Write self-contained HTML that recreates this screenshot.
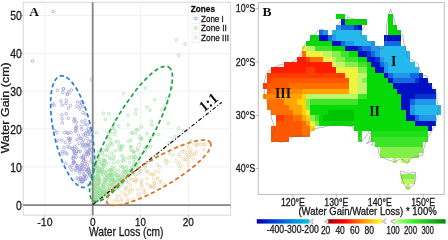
<!DOCTYPE html><html><head><meta charset="utf-8"><style>html,body{margin:0;padding:0;background:#fff;}svg{display:block;filter:blur(0.3px)}</style></head><body>
<svg width="448" height="239" viewBox="0 0 448 239" font-family="Liberation Sans, sans-serif">
<rect width="448" height="239" fill="#fff"/>
<rect x="23.2" y="2.2" width="207.4" height="212.9" fill="#fff" stroke="#d6d6d6" stroke-width="1"/>
<line x1="68.8" y1="2.2" x2="68.8" y2="215.1" stroke="#fbfbfb" stroke-width="0.0"/>
<line x1="116.6" y1="2.2" x2="116.6" y2="215.1" stroke="#fbfbfb" stroke-width="0.0"/>
<line x1="164.4" y1="2.2" x2="164.4" y2="215.1" stroke="#fbfbfb" stroke-width="0.0"/>
<line x1="212.2" y1="2.2" x2="212.2" y2="215.1" stroke="#fbfbfb" stroke-width="0.0"/>
<line x1="23.2" y1="185.8" x2="230.6" y2="185.8" stroke="#fbfbfb" stroke-width="0.0"/>
<line x1="23.2" y1="147.9" x2="230.6" y2="147.9" stroke="#fbfbfb" stroke-width="0.0"/>
<line x1="23.2" y1="110.1" x2="230.6" y2="110.1" stroke="#fbfbfb" stroke-width="0.0"/>
<line x1="23.2" y1="72.3" x2="230.6" y2="72.3" stroke="#fbfbfb" stroke-width="0.0"/>
<line x1="23.2" y1="34.4" x2="230.6" y2="34.4" stroke="#fbfbfb" stroke-width="0.0"/>
<line x1="44.9" y1="2.2" x2="44.9" y2="215.1" stroke="#f1f1f1" stroke-width="1"/>
<line x1="92.7" y1="2.2" x2="92.7" y2="215.1" stroke="#f1f1f1" stroke-width="1"/>
<line x1="140.5" y1="2.2" x2="140.5" y2="215.1" stroke="#f1f1f1" stroke-width="1"/>
<line x1="188.3" y1="2.2" x2="188.3" y2="215.1" stroke="#f1f1f1" stroke-width="1"/>
<line x1="23.2" y1="204.7" x2="230.6" y2="204.7" stroke="#f1f1f1" stroke-width="1"/>
<line x1="23.2" y1="166.9" x2="230.6" y2="166.9" stroke="#f1f1f1" stroke-width="1"/>
<line x1="23.2" y1="129.0" x2="230.6" y2="129.0" stroke="#f1f1f1" stroke-width="1"/>
<line x1="23.2" y1="91.2" x2="230.6" y2="91.2" stroke="#f1f1f1" stroke-width="1"/>
<line x1="23.2" y1="53.3" x2="230.6" y2="53.3" stroke="#f1f1f1" stroke-width="1"/>
<line x1="23.2" y1="15.5" x2="230.6" y2="15.5" stroke="#f1f1f1" stroke-width="1"/>
<circle cx="108.3" cy="163.2" r="1.35" fill="none" stroke="#9ede9e" stroke-width="0.7"/>
<circle cx="203.7" cy="149.5" r="1.35" fill="none" stroke="#e8d4a4" stroke-width="0.7"/>
<circle cx="80.2" cy="151.2" r="1.35" fill="none" stroke="#9898d4" stroke-width="0.7"/>
<circle cx="87.8" cy="169.4" r="1.35" fill="none" stroke="#9898d4" stroke-width="0.7"/>
<circle cx="111.7" cy="179.3" r="1.35" fill="none" stroke="#9ede9e" stroke-width="0.7"/>
<circle cx="135.3" cy="157.3" r="1.35" fill="none" stroke="#9ede9e" stroke-width="0.7"/>
<circle cx="69.9" cy="140.1" r="1.35" fill="none" stroke="#9898d4" stroke-width="0.7"/>
<circle cx="113.1" cy="201.4" r="1.35" fill="none" stroke="#e8d4a4" stroke-width="0.7"/>
<circle cx="185.4" cy="159.3" r="1.35" fill="none" stroke="#e8d4a4" stroke-width="0.7"/>
<circle cx="95.9" cy="186.4" r="1.35" fill="none" stroke="#9ede9e" stroke-width="0.7"/>
<circle cx="113.8" cy="156.1" r="1.35" fill="none" stroke="#9ede9e" stroke-width="0.7"/>
<circle cx="96.4" cy="182.8" r="1.35" fill="none" stroke="#9ede9e" stroke-width="0.7"/>
<circle cx="94.4" cy="197.2" r="1.35" fill="none" stroke="#9ede9e" stroke-width="0.7"/>
<circle cx="82.8" cy="144.9" r="1.35" fill="none" stroke="#9898d4" stroke-width="0.7"/>
<circle cx="103.6" cy="186.9" r="1.35" fill="none" stroke="#9ede9e" stroke-width="0.7"/>
<circle cx="119.8" cy="179.5" r="1.35" fill="none" stroke="#9ede9e" stroke-width="0.7"/>
<circle cx="140.6" cy="170.8" r="1.35" fill="none" stroke="#9ede9e" stroke-width="0.7"/>
<circle cx="116.3" cy="199.5" r="1.35" fill="none" stroke="#e8d4a4" stroke-width="0.7"/>
<circle cx="171.6" cy="87.4" r="1.35" fill="none" stroke="#9ede9e" stroke-width="0.7"/>
<circle cx="130.2" cy="191.2" r="1.35" fill="none" stroke="#e8d4a4" stroke-width="0.7"/>
<circle cx="137.0" cy="167.1" r="1.35" fill="none" stroke="#9ede9e" stroke-width="0.7"/>
<circle cx="76.5" cy="127.6" r="1.35" fill="none" stroke="#9898d4" stroke-width="0.7"/>
<circle cx="103.2" cy="192.5" r="1.35" fill="none" stroke="#9ede9e" stroke-width="0.7"/>
<circle cx="93.6" cy="199.5" r="1.35" fill="none" stroke="#9ede9e" stroke-width="0.7"/>
<circle cx="116.4" cy="184.2" r="1.35" fill="none" stroke="#9ede9e" stroke-width="0.7"/>
<circle cx="122.7" cy="146.0" r="1.35" fill="none" stroke="#9ede9e" stroke-width="0.7"/>
<circle cx="101.5" cy="174.6" r="1.35" fill="none" stroke="#9ede9e" stroke-width="0.7"/>
<circle cx="136.1" cy="109.7" r="1.35" fill="none" stroke="#9ede9e" stroke-width="0.7"/>
<circle cx="79.7" cy="108.9" r="1.35" fill="none" stroke="#9898d4" stroke-width="0.7"/>
<circle cx="105.9" cy="180.6" r="1.35" fill="none" stroke="#9ede9e" stroke-width="0.7"/>
<circle cx="97.0" cy="197.6" r="1.35" fill="none" stroke="#9ede9e" stroke-width="0.7"/>
<circle cx="84.9" cy="175.7" r="1.35" fill="none" stroke="#9898d4" stroke-width="0.7"/>
<circle cx="135.7" cy="113.9" r="1.35" fill="none" stroke="#9ede9e" stroke-width="0.7"/>
<circle cx="129.8" cy="170.4" r="1.35" fill="none" stroke="#9ede9e" stroke-width="0.7"/>
<circle cx="133.9" cy="159.4" r="1.35" fill="none" stroke="#9ede9e" stroke-width="0.7"/>
<circle cx="97.4" cy="184.7" r="1.35" fill="none" stroke="#9ede9e" stroke-width="0.7"/>
<circle cx="66.3" cy="100.5" r="1.35" fill="none" stroke="#9898d4" stroke-width="0.7"/>
<circle cx="120.2" cy="150.2" r="1.35" fill="none" stroke="#9ede9e" stroke-width="0.7"/>
<circle cx="102.1" cy="170.9" r="1.35" fill="none" stroke="#9ede9e" stroke-width="0.7"/>
<circle cx="99.2" cy="189.0" r="1.35" fill="none" stroke="#9ede9e" stroke-width="0.7"/>
<circle cx="103.0" cy="183.8" r="1.35" fill="none" stroke="#9ede9e" stroke-width="0.7"/>
<circle cx="129.1" cy="157.9" r="1.35" fill="none" stroke="#9ede9e" stroke-width="0.7"/>
<circle cx="98.5" cy="171.0" r="1.35" fill="none" stroke="#9ede9e" stroke-width="0.7"/>
<circle cx="96.0" cy="196.9" r="1.35" fill="none" stroke="#9ede9e" stroke-width="0.7"/>
<circle cx="80.6" cy="179.7" r="1.35" fill="none" stroke="#9898d4" stroke-width="0.7"/>
<circle cx="122.9" cy="167.0" r="1.35" fill="none" stroke="#9ede9e" stroke-width="0.7"/>
<circle cx="65.2" cy="142.3" r="1.35" fill="none" stroke="#9898d4" stroke-width="0.7"/>
<circle cx="103.9" cy="166.1" r="1.35" fill="none" stroke="#9ede9e" stroke-width="0.7"/>
<circle cx="77.5" cy="165.4" r="1.35" fill="none" stroke="#9898d4" stroke-width="0.7"/>
<circle cx="83.5" cy="134.8" r="1.35" fill="none" stroke="#9898d4" stroke-width="0.7"/>
<circle cx="135.3" cy="133.6" r="1.35" fill="none" stroke="#9ede9e" stroke-width="0.7"/>
<circle cx="97.0" cy="186.2" r="1.35" fill="none" stroke="#9ede9e" stroke-width="0.7"/>
<circle cx="84.7" cy="175.9" r="1.35" fill="none" stroke="#9898d4" stroke-width="0.7"/>
<circle cx="84.2" cy="171.2" r="1.35" fill="none" stroke="#9898d4" stroke-width="0.7"/>
<circle cx="76.6" cy="166.1" r="1.35" fill="none" stroke="#9898d4" stroke-width="0.7"/>
<circle cx="98.2" cy="160.9" r="1.35" fill="none" stroke="#9ede9e" stroke-width="0.7"/>
<circle cx="63.3" cy="88.8" r="1.35" fill="none" stroke="#9898d4" stroke-width="0.7"/>
<circle cx="104.2" cy="155.2" r="1.35" fill="none" stroke="#9ede9e" stroke-width="0.7"/>
<circle cx="93.2" cy="199.3" r="1.35" fill="none" stroke="#9ede9e" stroke-width="0.7"/>
<circle cx="105.1" cy="190.6" r="1.35" fill="none" stroke="#9ede9e" stroke-width="0.7"/>
<circle cx="113.4" cy="179.2" r="1.35" fill="none" stroke="#9ede9e" stroke-width="0.7"/>
<circle cx="61.9" cy="114.8" r="1.35" fill="none" stroke="#9898d4" stroke-width="0.7"/>
<circle cx="189.5" cy="157.3" r="1.35" fill="none" stroke="#e8d4a4" stroke-width="0.7"/>
<circle cx="106.6" cy="190.8" r="1.35" fill="none" stroke="#9ede9e" stroke-width="0.7"/>
<circle cx="121.8" cy="199.2" r="1.35" fill="none" stroke="#e8d4a4" stroke-width="0.7"/>
<circle cx="90.6" cy="141.3" r="1.35" fill="none" stroke="#9898d4" stroke-width="0.7"/>
<circle cx="125.3" cy="169.1" r="1.35" fill="none" stroke="#9ede9e" stroke-width="0.7"/>
<circle cx="83.3" cy="140.0" r="1.35" fill="none" stroke="#9898d4" stroke-width="0.7"/>
<circle cx="69.1" cy="139.4" r="1.35" fill="none" stroke="#9898d4" stroke-width="0.7"/>
<circle cx="97.1" cy="200.6" r="1.35" fill="none" stroke="#9ede9e" stroke-width="0.7"/>
<circle cx="183.3" cy="150.7" r="1.35" fill="none" stroke="#e8d4a4" stroke-width="0.7"/>
<circle cx="67.2" cy="94.3" r="1.35" fill="none" stroke="#9898d4" stroke-width="0.7"/>
<circle cx="111.8" cy="145.0" r="1.35" fill="none" stroke="#9ede9e" stroke-width="0.7"/>
<circle cx="190.4" cy="151.5" r="1.35" fill="none" stroke="#e8d4a4" stroke-width="0.7"/>
<circle cx="94.9" cy="198.8" r="1.35" fill="none" stroke="#9ede9e" stroke-width="0.7"/>
<circle cx="133.2" cy="179.7" r="1.35" fill="none" stroke="#e8d4a4" stroke-width="0.7"/>
<circle cx="114.3" cy="187.2" r="1.35" fill="none" stroke="#9ede9e" stroke-width="0.7"/>
<circle cx="106.5" cy="177.5" r="1.35" fill="none" stroke="#9ede9e" stroke-width="0.7"/>
<circle cx="135.3" cy="157.5" r="1.35" fill="none" stroke="#9ede9e" stroke-width="0.7"/>
<circle cx="122.4" cy="175.0" r="1.35" fill="none" stroke="#9ede9e" stroke-width="0.7"/>
<circle cx="113.7" cy="162.9" r="1.35" fill="none" stroke="#9ede9e" stroke-width="0.7"/>
<circle cx="104.6" cy="193.0" r="1.35" fill="none" stroke="#9ede9e" stroke-width="0.7"/>
<circle cx="169.0" cy="142.6" r="1.35" fill="none" stroke="#9ede9e" stroke-width="0.7"/>
<circle cx="118.7" cy="126.1" r="1.35" fill="none" stroke="#9ede9e" stroke-width="0.7"/>
<circle cx="109.7" cy="188.2" r="1.35" fill="none" stroke="#9ede9e" stroke-width="0.7"/>
<circle cx="88.1" cy="145.0" r="1.35" fill="none" stroke="#9898d4" stroke-width="0.7"/>
<circle cx="105.0" cy="182.7" r="1.35" fill="none" stroke="#9ede9e" stroke-width="0.7"/>
<circle cx="106.9" cy="178.6" r="1.35" fill="none" stroke="#9ede9e" stroke-width="0.7"/>
<circle cx="188.6" cy="161.4" r="1.35" fill="none" stroke="#e8d4a4" stroke-width="0.7"/>
<circle cx="97.9" cy="175.2" r="1.35" fill="none" stroke="#9ede9e" stroke-width="0.7"/>
<circle cx="130.5" cy="173.0" r="1.35" fill="none" stroke="#9ede9e" stroke-width="0.7"/>
<circle cx="63.5" cy="89.0" r="1.35" fill="none" stroke="#9898d4" stroke-width="0.7"/>
<circle cx="100.3" cy="190.0" r="1.35" fill="none" stroke="#9ede9e" stroke-width="0.7"/>
<circle cx="99.5" cy="181.1" r="1.35" fill="none" stroke="#9ede9e" stroke-width="0.7"/>
<circle cx="95.5" cy="184.9" r="1.35" fill="none" stroke="#9ede9e" stroke-width="0.7"/>
<circle cx="106.9" cy="175.8" r="1.35" fill="none" stroke="#9ede9e" stroke-width="0.7"/>
<circle cx="89.7" cy="171.1" r="1.35" fill="none" stroke="#9898d4" stroke-width="0.7"/>
<circle cx="131.4" cy="133.4" r="1.35" fill="none" stroke="#9ede9e" stroke-width="0.7"/>
<circle cx="102.4" cy="164.9" r="1.35" fill="none" stroke="#9ede9e" stroke-width="0.7"/>
<circle cx="83.2" cy="157.6" r="1.35" fill="none" stroke="#9898d4" stroke-width="0.7"/>
<circle cx="119.2" cy="177.7" r="1.35" fill="none" stroke="#9ede9e" stroke-width="0.7"/>
<circle cx="76.3" cy="122.2" r="1.35" fill="none" stroke="#9898d4" stroke-width="0.7"/>
<circle cx="93.8" cy="190.9" r="1.35" fill="none" stroke="#9ede9e" stroke-width="0.7"/>
<circle cx="137.3" cy="129.8" r="1.35" fill="none" stroke="#9ede9e" stroke-width="0.7"/>
<circle cx="83.5" cy="181.2" r="1.35" fill="none" stroke="#9898d4" stroke-width="0.7"/>
<circle cx="96.1" cy="176.5" r="1.35" fill="none" stroke="#9ede9e" stroke-width="0.7"/>
<circle cx="108.2" cy="147.1" r="1.35" fill="none" stroke="#9ede9e" stroke-width="0.7"/>
<circle cx="154.9" cy="171.3" r="1.35" fill="none" stroke="#e8d4a4" stroke-width="0.7"/>
<circle cx="76.7" cy="148.3" r="1.35" fill="none" stroke="#9898d4" stroke-width="0.7"/>
<circle cx="98.8" cy="198.4" r="1.35" fill="none" stroke="#9ede9e" stroke-width="0.7"/>
<circle cx="73.8" cy="161.6" r="1.35" fill="none" stroke="#9898d4" stroke-width="0.7"/>
<circle cx="72.7" cy="158.3" r="1.35" fill="none" stroke="#9898d4" stroke-width="0.7"/>
<circle cx="176.4" cy="40.1" r="1.35" fill="none" stroke="#9ede9e" stroke-width="0.7"/>
<circle cx="159.8" cy="167.3" r="1.35" fill="none" stroke="#e8d4a4" stroke-width="0.7"/>
<circle cx="158.6" cy="134.3" r="1.35" fill="none" stroke="#9ede9e" stroke-width="0.7"/>
<circle cx="183.8" cy="159.3" r="1.35" fill="none" stroke="#e8d4a4" stroke-width="0.7"/>
<circle cx="98.5" cy="173.6" r="1.35" fill="none" stroke="#9ede9e" stroke-width="0.7"/>
<circle cx="82.5" cy="146.0" r="1.35" fill="none" stroke="#9898d4" stroke-width="0.7"/>
<circle cx="105.6" cy="186.6" r="1.35" fill="none" stroke="#9ede9e" stroke-width="0.7"/>
<circle cx="113.6" cy="159.0" r="1.35" fill="none" stroke="#9ede9e" stroke-width="0.7"/>
<circle cx="113.8" cy="128.4" r="1.35" fill="none" stroke="#9ede9e" stroke-width="0.7"/>
<circle cx="89.3" cy="132.2" r="1.35" fill="none" stroke="#9898d4" stroke-width="0.7"/>
<circle cx="100.1" cy="170.0" r="1.35" fill="none" stroke="#9ede9e" stroke-width="0.7"/>
<circle cx="89.4" cy="149.5" r="1.35" fill="none" stroke="#9898d4" stroke-width="0.7"/>
<circle cx="161.1" cy="181.1" r="1.35" fill="none" stroke="#e8d4a4" stroke-width="0.7"/>
<circle cx="168.2" cy="123.3" r="1.35" fill="none" stroke="#9ede9e" stroke-width="0.7"/>
<circle cx="119.0" cy="177.4" r="1.35" fill="none" stroke="#9ede9e" stroke-width="0.7"/>
<circle cx="102.1" cy="189.2" r="1.35" fill="none" stroke="#9ede9e" stroke-width="0.7"/>
<circle cx="85.5" cy="135.2" r="1.35" fill="none" stroke="#9898d4" stroke-width="0.7"/>
<circle cx="112.3" cy="176.7" r="1.35" fill="none" stroke="#9ede9e" stroke-width="0.7"/>
<circle cx="98.7" cy="197.8" r="1.35" fill="none" stroke="#9ede9e" stroke-width="0.7"/>
<circle cx="122.6" cy="182.1" r="1.35" fill="none" stroke="#9ede9e" stroke-width="0.7"/>
<circle cx="95.0" cy="194.3" r="1.35" fill="none" stroke="#9ede9e" stroke-width="0.7"/>
<circle cx="166.8" cy="98.7" r="1.35" fill="none" stroke="#9ede9e" stroke-width="0.7"/>
<circle cx="135.4" cy="174.9" r="1.35" fill="none" stroke="#9ede9e" stroke-width="0.7"/>
<circle cx="111.0" cy="190.4" r="1.35" fill="none" stroke="#9ede9e" stroke-width="0.7"/>
<circle cx="114.2" cy="188.8" r="1.35" fill="none" stroke="#9ede9e" stroke-width="0.7"/>
<circle cx="194.5" cy="144.1" r="1.35" fill="none" stroke="#e8d4a4" stroke-width="0.7"/>
<circle cx="107.3" cy="145.6" r="1.35" fill="none" stroke="#9ede9e" stroke-width="0.7"/>
<circle cx="145.1" cy="192.2" r="1.35" fill="none" stroke="#e8d4a4" stroke-width="0.7"/>
<circle cx="96.1" cy="187.4" r="1.35" fill="none" stroke="#9ede9e" stroke-width="0.7"/>
<circle cx="111.4" cy="170.0" r="1.35" fill="none" stroke="#9ede9e" stroke-width="0.7"/>
<circle cx="97.0" cy="165.5" r="1.35" fill="none" stroke="#9ede9e" stroke-width="0.7"/>
<circle cx="126.3" cy="166.7" r="1.35" fill="none" stroke="#9ede9e" stroke-width="0.7"/>
<circle cx="99.9" cy="153.5" r="1.35" fill="none" stroke="#9ede9e" stroke-width="0.7"/>
<circle cx="100.3" cy="197.4" r="1.35" fill="none" stroke="#9ede9e" stroke-width="0.7"/>
<circle cx="77.0" cy="178.1" r="1.35" fill="none" stroke="#9898d4" stroke-width="0.7"/>
<circle cx="102.7" cy="150.5" r="1.35" fill="none" stroke="#9ede9e" stroke-width="0.7"/>
<circle cx="91.4" cy="158.1" r="1.35" fill="none" stroke="#9898d4" stroke-width="0.7"/>
<circle cx="53.0" cy="11.6" r="1.35" fill="none" stroke="#9898d4" stroke-width="0.7"/>
<circle cx="96.2" cy="198.7" r="1.35" fill="none" stroke="#9ede9e" stroke-width="0.7"/>
<circle cx="82.5" cy="142.3" r="1.35" fill="none" stroke="#9898d4" stroke-width="0.7"/>
<circle cx="103.5" cy="189.0" r="1.35" fill="none" stroke="#9ede9e" stroke-width="0.7"/>
<circle cx="114.8" cy="173.6" r="1.35" fill="none" stroke="#9ede9e" stroke-width="0.7"/>
<circle cx="122.5" cy="172.3" r="1.35" fill="none" stroke="#9ede9e" stroke-width="0.7"/>
<circle cx="80.5" cy="105.7" r="1.35" fill="none" stroke="#9898d4" stroke-width="0.7"/>
<circle cx="81.3" cy="102.7" r="1.35" fill="none" stroke="#9898d4" stroke-width="0.7"/>
<circle cx="115.0" cy="121.3" r="1.35" fill="none" stroke="#9ede9e" stroke-width="0.7"/>
<circle cx="93.7" cy="188.1" r="1.35" fill="none" stroke="#9ede9e" stroke-width="0.7"/>
<circle cx="154.8" cy="185.6" r="1.35" fill="none" stroke="#e8d4a4" stroke-width="0.7"/>
<circle cx="116.6" cy="175.8" r="1.35" fill="none" stroke="#9ede9e" stroke-width="0.7"/>
<circle cx="94.8" cy="164.7" r="1.35" fill="none" stroke="#9ede9e" stroke-width="0.7"/>
<circle cx="145.2" cy="147.8" r="1.35" fill="none" stroke="#9ede9e" stroke-width="0.7"/>
<circle cx="95.5" cy="184.7" r="1.35" fill="none" stroke="#9ede9e" stroke-width="0.7"/>
<circle cx="101.9" cy="193.5" r="1.35" fill="none" stroke="#9ede9e" stroke-width="0.7"/>
<circle cx="105.8" cy="165.2" r="1.35" fill="none" stroke="#9ede9e" stroke-width="0.7"/>
<circle cx="67.8" cy="94.0" r="1.35" fill="none" stroke="#9898d4" stroke-width="0.7"/>
<circle cx="110.8" cy="158.9" r="1.35" fill="none" stroke="#9ede9e" stroke-width="0.7"/>
<circle cx="135.3" cy="180.8" r="1.35" fill="none" stroke="#e8d4a4" stroke-width="0.7"/>
<circle cx="139.1" cy="172.4" r="1.35" fill="none" stroke="#9ede9e" stroke-width="0.7"/>
<circle cx="123.9" cy="171.4" r="1.35" fill="none" stroke="#9ede9e" stroke-width="0.7"/>
<circle cx="99.5" cy="168.3" r="1.35" fill="none" stroke="#9ede9e" stroke-width="0.7"/>
<circle cx="95.5" cy="200.8" r="1.35" fill="none" stroke="#9ede9e" stroke-width="0.7"/>
<circle cx="179.9" cy="156.6" r="1.35" fill="none" stroke="#e8d4a4" stroke-width="0.7"/>
<circle cx="109.7" cy="169.8" r="1.35" fill="none" stroke="#9ede9e" stroke-width="0.7"/>
<circle cx="108.9" cy="113.8" r="1.35" fill="none" stroke="#9ede9e" stroke-width="0.7"/>
<circle cx="103.6" cy="184.7" r="1.35" fill="none" stroke="#9ede9e" stroke-width="0.7"/>
<circle cx="78.6" cy="151.6" r="1.35" fill="none" stroke="#9898d4" stroke-width="0.7"/>
<circle cx="122.6" cy="183.0" r="1.35" fill="none" stroke="#9ede9e" stroke-width="0.7"/>
<circle cx="94.3" cy="197.6" r="1.35" fill="none" stroke="#9ede9e" stroke-width="0.7"/>
<circle cx="126.7" cy="187.2" r="1.35" fill="none" stroke="#e8d4a4" stroke-width="0.7"/>
<circle cx="125.4" cy="172.6" r="1.35" fill="none" stroke="#9ede9e" stroke-width="0.7"/>
<circle cx="110.5" cy="139.2" r="1.35" fill="none" stroke="#9ede9e" stroke-width="0.7"/>
<circle cx="73.7" cy="150.0" r="1.35" fill="none" stroke="#9898d4" stroke-width="0.7"/>
<circle cx="123.4" cy="179.3" r="1.35" fill="none" stroke="#9ede9e" stroke-width="0.7"/>
<circle cx="101.1" cy="192.4" r="1.35" fill="none" stroke="#9ede9e" stroke-width="0.7"/>
<circle cx="126.0" cy="172.1" r="1.35" fill="none" stroke="#9ede9e" stroke-width="0.7"/>
<circle cx="118.1" cy="180.8" r="1.35" fill="none" stroke="#9ede9e" stroke-width="0.7"/>
<circle cx="85.0" cy="166.4" r="1.35" fill="none" stroke="#9898d4" stroke-width="0.7"/>
<circle cx="67.5" cy="132.6" r="1.35" fill="none" stroke="#9898d4" stroke-width="0.7"/>
<circle cx="74.8" cy="153.7" r="1.35" fill="none" stroke="#9898d4" stroke-width="0.7"/>
<circle cx="121.1" cy="149.3" r="1.35" fill="none" stroke="#9ede9e" stroke-width="0.7"/>
<circle cx="112.3" cy="170.7" r="1.35" fill="none" stroke="#9ede9e" stroke-width="0.7"/>
<circle cx="154.1" cy="187.6" r="1.35" fill="none" stroke="#e8d4a4" stroke-width="0.7"/>
<circle cx="81.0" cy="138.1" r="1.35" fill="none" stroke="#9898d4" stroke-width="0.7"/>
<circle cx="190.6" cy="152.9" r="1.35" fill="none" stroke="#e8d4a4" stroke-width="0.7"/>
<circle cx="76.3" cy="157.1" r="1.35" fill="none" stroke="#9898d4" stroke-width="0.7"/>
<circle cx="77.5" cy="167.0" r="1.35" fill="none" stroke="#9898d4" stroke-width="0.7"/>
<circle cx="109.0" cy="136.8" r="1.35" fill="none" stroke="#9ede9e" stroke-width="0.7"/>
<circle cx="100.5" cy="194.6" r="1.35" fill="none" stroke="#9ede9e" stroke-width="0.7"/>
<circle cx="178.5" cy="128.4" r="1.35" fill="none" stroke="#9ede9e" stroke-width="0.7"/>
<circle cx="196.8" cy="144.5" r="1.35" fill="none" stroke="#e8d4a4" stroke-width="0.7"/>
<circle cx="147.5" cy="170.7" r="1.35" fill="none" stroke="#e8d4a4" stroke-width="0.7"/>
<circle cx="83.4" cy="173.9" r="1.35" fill="none" stroke="#9898d4" stroke-width="0.7"/>
<circle cx="82.0" cy="162.4" r="1.35" fill="none" stroke="#9898d4" stroke-width="0.7"/>
<circle cx="88.2" cy="153.9" r="1.35" fill="none" stroke="#9898d4" stroke-width="0.7"/>
<circle cx="117.1" cy="175.4" r="1.35" fill="none" stroke="#9ede9e" stroke-width="0.7"/>
<circle cx="97.4" cy="184.3" r="1.35" fill="none" stroke="#9ede9e" stroke-width="0.7"/>
<circle cx="90.0" cy="176.0" r="1.35" fill="none" stroke="#9898d4" stroke-width="0.7"/>
<circle cx="94.5" cy="180.0" r="1.35" fill="none" stroke="#9ede9e" stroke-width="0.7"/>
<circle cx="118.0" cy="161.9" r="1.35" fill="none" stroke="#9ede9e" stroke-width="0.7"/>
<circle cx="119.6" cy="147.8" r="1.35" fill="none" stroke="#9ede9e" stroke-width="0.7"/>
<circle cx="102.0" cy="197.2" r="1.35" fill="none" stroke="#9ede9e" stroke-width="0.7"/>
<circle cx="94.3" cy="196.2" r="1.35" fill="none" stroke="#9ede9e" stroke-width="0.7"/>
<circle cx="61.7" cy="140.1" r="1.35" fill="none" stroke="#9898d4" stroke-width="0.7"/>
<circle cx="98.2" cy="183.4" r="1.35" fill="none" stroke="#9ede9e" stroke-width="0.7"/>
<circle cx="185.0" cy="43.9" r="1.35" fill="none" stroke="#9ede9e" stroke-width="0.7"/>
<circle cx="94.1" cy="195.3" r="1.35" fill="none" stroke="#9ede9e" stroke-width="0.7"/>
<circle cx="100.9" cy="171.8" r="1.35" fill="none" stroke="#9ede9e" stroke-width="0.7"/>
<circle cx="154.2" cy="182.7" r="1.35" fill="none" stroke="#e8d4a4" stroke-width="0.7"/>
<circle cx="85.2" cy="114.1" r="1.35" fill="none" stroke="#9898d4" stroke-width="0.7"/>
<circle cx="122.6" cy="167.4" r="1.35" fill="none" stroke="#9ede9e" stroke-width="0.7"/>
<circle cx="145.1" cy="150.8" r="1.35" fill="none" stroke="#9ede9e" stroke-width="0.7"/>
<circle cx="131.8" cy="169.7" r="1.35" fill="none" stroke="#9ede9e" stroke-width="0.7"/>
<circle cx="179.1" cy="154.4" r="1.35" fill="none" stroke="#e8d4a4" stroke-width="0.7"/>
<circle cx="78.4" cy="135.0" r="1.35" fill="none" stroke="#9898d4" stroke-width="0.7"/>
<circle cx="96.9" cy="171.6" r="1.35" fill="none" stroke="#9ede9e" stroke-width="0.7"/>
<circle cx="103.4" cy="192.4" r="1.35" fill="none" stroke="#9ede9e" stroke-width="0.7"/>
<circle cx="117.5" cy="187.2" r="1.35" fill="none" stroke="#9ede9e" stroke-width="0.7"/>
<circle cx="134.0" cy="156.7" r="1.35" fill="none" stroke="#9ede9e" stroke-width="0.7"/>
<circle cx="128.6" cy="141.4" r="1.35" fill="none" stroke="#9ede9e" stroke-width="0.7"/>
<circle cx="69.8" cy="167.1" r="1.35" fill="none" stroke="#9898d4" stroke-width="0.7"/>
<circle cx="109.9" cy="190.1" r="1.35" fill="none" stroke="#9ede9e" stroke-width="0.7"/>
<circle cx="141.4" cy="182.1" r="1.35" fill="none" stroke="#e8d4a4" stroke-width="0.7"/>
<circle cx="77.5" cy="102.0" r="1.35" fill="none" stroke="#9898d4" stroke-width="0.7"/>
<circle cx="145.0" cy="167.0" r="1.35" fill="none" stroke="#9ede9e" stroke-width="0.7"/>
<circle cx="88.3" cy="168.9" r="1.35" fill="none" stroke="#9898d4" stroke-width="0.7"/>
<circle cx="150.1" cy="110.1" r="1.35" fill="none" stroke="#9ede9e" stroke-width="0.7"/>
<circle cx="111.7" cy="180.3" r="1.35" fill="none" stroke="#9ede9e" stroke-width="0.7"/>
<circle cx="96.8" cy="176.8" r="1.35" fill="none" stroke="#9ede9e" stroke-width="0.7"/>
<circle cx="92.8" cy="183.4" r="1.35" fill="none" stroke="#9ede9e" stroke-width="0.7"/>
<circle cx="110.6" cy="172.7" r="1.35" fill="none" stroke="#9ede9e" stroke-width="0.7"/>
<circle cx="101.1" cy="195.0" r="1.35" fill="none" stroke="#9ede9e" stroke-width="0.7"/>
<circle cx="75.9" cy="170.9" r="1.35" fill="none" stroke="#9898d4" stroke-width="0.7"/>
<circle cx="101.7" cy="172.6" r="1.35" fill="none" stroke="#9ede9e" stroke-width="0.7"/>
<circle cx="82.2" cy="181.5" r="1.35" fill="none" stroke="#9898d4" stroke-width="0.7"/>
<circle cx="100.5" cy="171.5" r="1.35" fill="none" stroke="#9ede9e" stroke-width="0.7"/>
<circle cx="103.7" cy="165.0" r="1.35" fill="none" stroke="#9ede9e" stroke-width="0.7"/>
<circle cx="95.3" cy="199.2" r="1.35" fill="none" stroke="#9ede9e" stroke-width="0.7"/>
<circle cx="128.0" cy="199.3" r="1.35" fill="none" stroke="#e8d4a4" stroke-width="0.7"/>
<circle cx="79.6" cy="171.3" r="1.35" fill="none" stroke="#9898d4" stroke-width="0.7"/>
<circle cx="77.4" cy="168.0" r="1.35" fill="none" stroke="#9898d4" stroke-width="0.7"/>
<circle cx="116.0" cy="171.5" r="1.35" fill="none" stroke="#9ede9e" stroke-width="0.7"/>
<circle cx="124.5" cy="171.3" r="1.35" fill="none" stroke="#9ede9e" stroke-width="0.7"/>
<circle cx="100.5" cy="185.6" r="1.35" fill="none" stroke="#9ede9e" stroke-width="0.7"/>
<circle cx="123.3" cy="181.3" r="1.35" fill="none" stroke="#9ede9e" stroke-width="0.7"/>
<circle cx="77.0" cy="106.3" r="1.35" fill="none" stroke="#9898d4" stroke-width="0.7"/>
<circle cx="71.3" cy="89.9" r="1.35" fill="none" stroke="#9898d4" stroke-width="0.7"/>
<circle cx="110.6" cy="177.6" r="1.35" fill="none" stroke="#9ede9e" stroke-width="0.7"/>
<circle cx="94.2" cy="182.1" r="1.35" fill="none" stroke="#9ede9e" stroke-width="0.7"/>
<circle cx="62.2" cy="105.1" r="1.35" fill="none" stroke="#9898d4" stroke-width="0.7"/>
<circle cx="121.9" cy="155.6" r="1.35" fill="none" stroke="#9ede9e" stroke-width="0.7"/>
<circle cx="112.2" cy="175.3" r="1.35" fill="none" stroke="#9ede9e" stroke-width="0.7"/>
<circle cx="66.9" cy="153.9" r="1.35" fill="none" stroke="#9898d4" stroke-width="0.7"/>
<circle cx="73.3" cy="162.9" r="1.35" fill="none" stroke="#9898d4" stroke-width="0.7"/>
<circle cx="86.2" cy="176.7" r="1.35" fill="none" stroke="#9898d4" stroke-width="0.7"/>
<circle cx="105.3" cy="193.2" r="1.35" fill="none" stroke="#9ede9e" stroke-width="0.7"/>
<circle cx="121.6" cy="184.6" r="1.35" fill="none" stroke="#9ede9e" stroke-width="0.7"/>
<circle cx="193.5" cy="159.1" r="1.35" fill="none" stroke="#e8d4a4" stroke-width="0.7"/>
<circle cx="70.5" cy="105.6" r="1.35" fill="none" stroke="#9898d4" stroke-width="0.7"/>
<circle cx="109.3" cy="174.7" r="1.35" fill="none" stroke="#9ede9e" stroke-width="0.7"/>
<circle cx="127.8" cy="115.3" r="1.35" fill="none" stroke="#9ede9e" stroke-width="0.7"/>
<circle cx="181.0" cy="166.0" r="1.35" fill="none" stroke="#e8d4a4" stroke-width="0.7"/>
<circle cx="98.9" cy="152.0" r="1.35" fill="none" stroke="#9ede9e" stroke-width="0.7"/>
<circle cx="146.0" cy="171.4" r="1.35" fill="none" stroke="#e8d4a4" stroke-width="0.7"/>
<circle cx="103.8" cy="194.2" r="1.35" fill="none" stroke="#9ede9e" stroke-width="0.7"/>
<circle cx="88.8" cy="131.6" r="1.35" fill="none" stroke="#9898d4" stroke-width="0.7"/>
<circle cx="147.0" cy="184.0" r="1.35" fill="none" stroke="#e8d4a4" stroke-width="0.7"/>
<circle cx="95.0" cy="178.7" r="1.35" fill="none" stroke="#9ede9e" stroke-width="0.7"/>
<circle cx="99.6" cy="195.3" r="1.35" fill="none" stroke="#9ede9e" stroke-width="0.7"/>
<circle cx="86.0" cy="161.4" r="1.35" fill="none" stroke="#9898d4" stroke-width="0.7"/>
<circle cx="108.1" cy="184.6" r="1.35" fill="none" stroke="#9ede9e" stroke-width="0.7"/>
<circle cx="141.4" cy="184.7" r="1.35" fill="none" stroke="#e8d4a4" stroke-width="0.7"/>
<circle cx="83.3" cy="176.7" r="1.35" fill="none" stroke="#9898d4" stroke-width="0.7"/>
<circle cx="96.5" cy="200.9" r="1.35" fill="none" stroke="#9ede9e" stroke-width="0.7"/>
<circle cx="92.9" cy="184.9" r="1.35" fill="none" stroke="#9ede9e" stroke-width="0.7"/>
<circle cx="133.1" cy="189.5" r="1.35" fill="none" stroke="#e8d4a4" stroke-width="0.7"/>
<circle cx="74.6" cy="162.9" r="1.35" fill="none" stroke="#9898d4" stroke-width="0.7"/>
<circle cx="87.6" cy="164.9" r="1.35" fill="none" stroke="#9898d4" stroke-width="0.7"/>
<circle cx="91.6" cy="79.6" r="1.35" fill="none" stroke="#9898d4" stroke-width="0.7"/>
<circle cx="154.1" cy="174.7" r="1.35" fill="none" stroke="#e8d4a4" stroke-width="0.7"/>
<circle cx="95.1" cy="191.7" r="1.35" fill="none" stroke="#9ede9e" stroke-width="0.7"/>
<circle cx="115.6" cy="181.5" r="1.35" fill="none" stroke="#9ede9e" stroke-width="0.7"/>
<circle cx="122.4" cy="177.0" r="1.35" fill="none" stroke="#9ede9e" stroke-width="0.7"/>
<circle cx="118.6" cy="179.1" r="1.35" fill="none" stroke="#9ede9e" stroke-width="0.7"/>
<circle cx="94.3" cy="193.6" r="1.35" fill="none" stroke="#9ede9e" stroke-width="0.7"/>
<circle cx="137.5" cy="150.5" r="1.35" fill="none" stroke="#9ede9e" stroke-width="0.7"/>
<circle cx="73.8" cy="161.9" r="1.35" fill="none" stroke="#9898d4" stroke-width="0.7"/>
<circle cx="96.8" cy="182.0" r="1.35" fill="none" stroke="#9ede9e" stroke-width="0.7"/>
<circle cx="128.5" cy="171.2" r="1.35" fill="none" stroke="#9ede9e" stroke-width="0.7"/>
<circle cx="111.3" cy="182.6" r="1.35" fill="none" stroke="#9ede9e" stroke-width="0.7"/>
<circle cx="129.9" cy="178.4" r="1.35" fill="none" stroke="#9ede9e" stroke-width="0.7"/>
<circle cx="110.4" cy="175.2" r="1.35" fill="none" stroke="#9ede9e" stroke-width="0.7"/>
<circle cx="151.2" cy="186.7" r="1.35" fill="none" stroke="#e8d4a4" stroke-width="0.7"/>
<circle cx="93.5" cy="192.8" r="1.35" fill="none" stroke="#9ede9e" stroke-width="0.7"/>
<circle cx="102.5" cy="195.2" r="1.35" fill="none" stroke="#9ede9e" stroke-width="0.7"/>
<circle cx="94.1" cy="186.3" r="1.35" fill="none" stroke="#9ede9e" stroke-width="0.7"/>
<circle cx="100.8" cy="198.0" r="1.35" fill="none" stroke="#9ede9e" stroke-width="0.7"/>
<circle cx="148.7" cy="172.9" r="1.35" fill="none" stroke="#e8d4a4" stroke-width="0.7"/>
<circle cx="126.3" cy="181.0" r="1.35" fill="none" stroke="#9ede9e" stroke-width="0.7"/>
<circle cx="93.1" cy="195.0" r="1.35" fill="none" stroke="#9ede9e" stroke-width="0.7"/>
<circle cx="151.3" cy="174.4" r="1.35" fill="none" stroke="#e8d4a4" stroke-width="0.7"/>
<circle cx="104.2" cy="181.9" r="1.35" fill="none" stroke="#9ede9e" stroke-width="0.7"/>
<circle cx="136.7" cy="164.5" r="1.35" fill="none" stroke="#9ede9e" stroke-width="0.7"/>
<circle cx="169.4" cy="153.3" r="1.35" fill="none" stroke="#9ede9e" stroke-width="0.7"/>
<circle cx="75.6" cy="168.8" r="1.35" fill="none" stroke="#9898d4" stroke-width="0.7"/>
<circle cx="131.8" cy="157.2" r="1.35" fill="none" stroke="#9ede9e" stroke-width="0.7"/>
<circle cx="127.0" cy="170.3" r="1.35" fill="none" stroke="#9ede9e" stroke-width="0.7"/>
<circle cx="165.1" cy="160.1" r="1.35" fill="none" stroke="#e8d4a4" stroke-width="0.7"/>
<circle cx="98.3" cy="172.0" r="1.35" fill="none" stroke="#9ede9e" stroke-width="0.7"/>
<circle cx="72.0" cy="165.5" r="1.35" fill="none" stroke="#9898d4" stroke-width="0.7"/>
<circle cx="105.8" cy="149.5" r="1.35" fill="none" stroke="#9ede9e" stroke-width="0.7"/>
<circle cx="187.7" cy="145.5" r="1.35" fill="none" stroke="#e8d4a4" stroke-width="0.7"/>
<circle cx="101.1" cy="190.5" r="1.35" fill="none" stroke="#9ede9e" stroke-width="0.7"/>
<circle cx="150.8" cy="185.2" r="1.35" fill="none" stroke="#e8d4a4" stroke-width="0.7"/>
<circle cx="198.0" cy="144.2" r="1.35" fill="none" stroke="#e8d4a4" stroke-width="0.7"/>
<circle cx="118.2" cy="141.8" r="1.35" fill="none" stroke="#9ede9e" stroke-width="0.7"/>
<circle cx="106.4" cy="170.3" r="1.35" fill="none" stroke="#9ede9e" stroke-width="0.7"/>
<circle cx="93.9" cy="187.8" r="1.35" fill="none" stroke="#9ede9e" stroke-width="0.7"/>
<circle cx="96.8" cy="192.8" r="1.35" fill="none" stroke="#9ede9e" stroke-width="0.7"/>
<circle cx="104.7" cy="180.4" r="1.35" fill="none" stroke="#9ede9e" stroke-width="0.7"/>
<circle cx="107.7" cy="155.6" r="1.35" fill="none" stroke="#9ede9e" stroke-width="0.7"/>
<circle cx="121.3" cy="182.5" r="1.35" fill="none" stroke="#9ede9e" stroke-width="0.7"/>
<circle cx="90.5" cy="161.5" r="1.35" fill="none" stroke="#9898d4" stroke-width="0.7"/>
<circle cx="62.4" cy="122.9" r="1.35" fill="none" stroke="#9898d4" stroke-width="0.7"/>
<circle cx="127.7" cy="201.1" r="1.35" fill="none" stroke="#e8d4a4" stroke-width="0.7"/>
<circle cx="109.9" cy="170.1" r="1.35" fill="none" stroke="#9ede9e" stroke-width="0.7"/>
<circle cx="89.1" cy="150.7" r="1.35" fill="none" stroke="#9898d4" stroke-width="0.7"/>
<circle cx="115.6" cy="188.3" r="1.35" fill="none" stroke="#9ede9e" stroke-width="0.7"/>
<circle cx="81.8" cy="167.0" r="1.35" fill="none" stroke="#9898d4" stroke-width="0.7"/>
<circle cx="108.3" cy="192.1" r="1.35" fill="none" stroke="#9ede9e" stroke-width="0.7"/>
<circle cx="105.3" cy="173.5" r="1.35" fill="none" stroke="#9ede9e" stroke-width="0.7"/>
<circle cx="112.1" cy="178.7" r="1.35" fill="none" stroke="#9ede9e" stroke-width="0.7"/>
<circle cx="115.5" cy="141.6" r="1.35" fill="none" stroke="#9ede9e" stroke-width="0.7"/>
<circle cx="74.8" cy="146.4" r="1.35" fill="none" stroke="#9898d4" stroke-width="0.7"/>
<circle cx="81.0" cy="157.5" r="1.35" fill="none" stroke="#9898d4" stroke-width="0.7"/>
<circle cx="120.9" cy="166.0" r="1.35" fill="none" stroke="#9ede9e" stroke-width="0.7"/>
<circle cx="141.7" cy="185.9" r="1.35" fill="none" stroke="#e8d4a4" stroke-width="0.7"/>
<circle cx="63.8" cy="147.5" r="1.35" fill="none" stroke="#9898d4" stroke-width="0.7"/>
<circle cx="138.1" cy="162.0" r="1.35" fill="none" stroke="#9ede9e" stroke-width="0.7"/>
<circle cx="90.3" cy="134.3" r="1.35" fill="none" stroke="#9898d4" stroke-width="0.7"/>
<circle cx="79.6" cy="173.2" r="1.35" fill="none" stroke="#9898d4" stroke-width="0.7"/>
<circle cx="93.6" cy="198.1" r="1.35" fill="none" stroke="#9ede9e" stroke-width="0.7"/>
<circle cx="132.3" cy="173.3" r="1.35" fill="none" stroke="#9ede9e" stroke-width="0.7"/>
<circle cx="118.4" cy="175.1" r="1.35" fill="none" stroke="#9ede9e" stroke-width="0.7"/>
<circle cx="81.6" cy="179.8" r="1.35" fill="none" stroke="#9898d4" stroke-width="0.7"/>
<circle cx="84.9" cy="179.0" r="1.35" fill="none" stroke="#9898d4" stroke-width="0.7"/>
<circle cx="135.1" cy="162.2" r="1.35" fill="none" stroke="#9ede9e" stroke-width="0.7"/>
<circle cx="112.2" cy="128.1" r="1.35" fill="none" stroke="#9ede9e" stroke-width="0.7"/>
<circle cx="129.5" cy="162.5" r="1.35" fill="none" stroke="#9ede9e" stroke-width="0.7"/>
<circle cx="123.5" cy="93.5" r="1.35" fill="none" stroke="#9ede9e" stroke-width="0.7"/>
<circle cx="108.9" cy="185.6" r="1.35" fill="none" stroke="#9ede9e" stroke-width="0.7"/>
<circle cx="72.8" cy="148.7" r="1.35" fill="none" stroke="#9898d4" stroke-width="0.7"/>
<circle cx="106.6" cy="192.4" r="1.35" fill="none" stroke="#9ede9e" stroke-width="0.7"/>
<circle cx="57.0" cy="132.6" r="1.35" fill="none" stroke="#9898d4" stroke-width="0.7"/>
<circle cx="81.7" cy="121.5" r="1.35" fill="none" stroke="#9898d4" stroke-width="0.7"/>
<circle cx="52.7" cy="103.9" r="1.35" fill="none" stroke="#9898d4" stroke-width="0.7"/>
<circle cx="185.6" cy="159.3" r="1.35" fill="none" stroke="#e8d4a4" stroke-width="0.7"/>
<circle cx="68.7" cy="91.5" r="1.35" fill="none" stroke="#9898d4" stroke-width="0.7"/>
<circle cx="93.6" cy="185.5" r="1.35" fill="none" stroke="#9ede9e" stroke-width="0.7"/>
<circle cx="85.9" cy="151.5" r="1.35" fill="none" stroke="#9898d4" stroke-width="0.7"/>
<circle cx="127.9" cy="124.7" r="1.35" fill="none" stroke="#9ede9e" stroke-width="0.7"/>
<circle cx="108.6" cy="132.6" r="1.35" fill="none" stroke="#9ede9e" stroke-width="0.7"/>
<circle cx="68.6" cy="138.2" r="1.35" fill="none" stroke="#9898d4" stroke-width="0.7"/>
<circle cx="120.5" cy="180.5" r="1.35" fill="none" stroke="#9ede9e" stroke-width="0.7"/>
<circle cx="166.4" cy="163.7" r="1.35" fill="none" stroke="#e8d4a4" stroke-width="0.7"/>
<circle cx="98.7" cy="168.6" r="1.35" fill="none" stroke="#9ede9e" stroke-width="0.7"/>
<circle cx="95.9" cy="198.2" r="1.35" fill="none" stroke="#9ede9e" stroke-width="0.7"/>
<circle cx="73.7" cy="156.1" r="1.35" fill="none" stroke="#9898d4" stroke-width="0.7"/>
<circle cx="92.8" cy="189.4" r="1.35" fill="none" stroke="#9ede9e" stroke-width="0.7"/>
<circle cx="113.8" cy="180.9" r="1.35" fill="none" stroke="#9ede9e" stroke-width="0.7"/>
<circle cx="74.4" cy="151.6" r="1.35" fill="none" stroke="#9898d4" stroke-width="0.7"/>
<circle cx="88.3" cy="128.8" r="1.35" fill="none" stroke="#9898d4" stroke-width="0.7"/>
<circle cx="95.4" cy="198.8" r="1.35" fill="none" stroke="#9ede9e" stroke-width="0.7"/>
<circle cx="93.4" cy="183.9" r="1.35" fill="none" stroke="#9ede9e" stroke-width="0.7"/>
<circle cx="78.6" cy="179.4" r="1.35" fill="none" stroke="#9898d4" stroke-width="0.7"/>
<circle cx="119.7" cy="180.1" r="1.35" fill="none" stroke="#9ede9e" stroke-width="0.7"/>
<circle cx="106.2" cy="150.8" r="1.35" fill="none" stroke="#9ede9e" stroke-width="0.7"/>
<circle cx="125.6" cy="187.8" r="1.35" fill="none" stroke="#e8d4a4" stroke-width="0.7"/>
<circle cx="62.7" cy="153.4" r="1.35" fill="none" stroke="#9898d4" stroke-width="0.7"/>
<circle cx="83.4" cy="157.2" r="1.35" fill="none" stroke="#9898d4" stroke-width="0.7"/>
<circle cx="111.9" cy="184.7" r="1.35" fill="none" stroke="#9ede9e" stroke-width="0.7"/>
<circle cx="80.2" cy="177.5" r="1.35" fill="none" stroke="#9898d4" stroke-width="0.7"/>
<circle cx="131.2" cy="146.9" r="1.35" fill="none" stroke="#9ede9e" stroke-width="0.7"/>
<circle cx="89.5" cy="145.0" r="1.35" fill="none" stroke="#9898d4" stroke-width="0.7"/>
<circle cx="79.9" cy="181.8" r="1.35" fill="none" stroke="#9898d4" stroke-width="0.7"/>
<circle cx="98.5" cy="189.3" r="1.35" fill="none" stroke="#9ede9e" stroke-width="0.7"/>
<circle cx="96.7" cy="195.0" r="1.35" fill="none" stroke="#9ede9e" stroke-width="0.7"/>
<circle cx="110.2" cy="143.3" r="1.35" fill="none" stroke="#9ede9e" stroke-width="0.7"/>
<circle cx="85.6" cy="179.0" r="1.35" fill="none" stroke="#9898d4" stroke-width="0.7"/>
<circle cx="76.7" cy="151.1" r="1.35" fill="none" stroke="#9898d4" stroke-width="0.7"/>
<circle cx="86.4" cy="153.6" r="1.35" fill="none" stroke="#9898d4" stroke-width="0.7"/>
<circle cx="68.3" cy="108.2" r="1.35" fill="none" stroke="#9898d4" stroke-width="0.7"/>
<circle cx="105.4" cy="119.3" r="1.35" fill="none" stroke="#9ede9e" stroke-width="0.7"/>
<circle cx="113.3" cy="185.1" r="1.35" fill="none" stroke="#9ede9e" stroke-width="0.7"/>
<circle cx="95.3" cy="188.9" r="1.35" fill="none" stroke="#9ede9e" stroke-width="0.7"/>
<circle cx="81.4" cy="126.3" r="1.35" fill="none" stroke="#9898d4" stroke-width="0.7"/>
<circle cx="97.9" cy="172.7" r="1.35" fill="none" stroke="#9ede9e" stroke-width="0.7"/>
<circle cx="162.1" cy="109.8" r="1.35" fill="none" stroke="#9ede9e" stroke-width="0.7"/>
<circle cx="178.7" cy="55.2" r="1.35" fill="none" stroke="#9ede9e" stroke-width="0.7"/>
<circle cx="80.1" cy="138.4" r="1.35" fill="none" stroke="#9898d4" stroke-width="0.7"/>
<circle cx="87.3" cy="145.7" r="1.35" fill="none" stroke="#9898d4" stroke-width="0.7"/>
<circle cx="96.1" cy="191.9" r="1.35" fill="none" stroke="#9ede9e" stroke-width="0.7"/>
<circle cx="102.2" cy="194.5" r="1.35" fill="none" stroke="#9ede9e" stroke-width="0.7"/>
<circle cx="73.7" cy="158.0" r="1.35" fill="none" stroke="#9898d4" stroke-width="0.7"/>
<circle cx="76.2" cy="153.7" r="1.35" fill="none" stroke="#9898d4" stroke-width="0.7"/>
<circle cx="104.0" cy="193.5" r="1.35" fill="none" stroke="#9ede9e" stroke-width="0.7"/>
<circle cx="173.2" cy="154.8" r="1.35" fill="none" stroke="#e8d4a4" stroke-width="0.7"/>
<circle cx="79.6" cy="168.7" r="1.35" fill="none" stroke="#9898d4" stroke-width="0.7"/>
<circle cx="88.5" cy="172.9" r="1.35" fill="none" stroke="#9898d4" stroke-width="0.7"/>
<circle cx="74.9" cy="119.7" r="1.35" fill="none" stroke="#9898d4" stroke-width="0.7"/>
<circle cx="113.3" cy="173.6" r="1.35" fill="none" stroke="#9ede9e" stroke-width="0.7"/>
<circle cx="147.0" cy="133.7" r="1.35" fill="none" stroke="#9ede9e" stroke-width="0.7"/>
<circle cx="122.8" cy="177.4" r="1.35" fill="none" stroke="#9ede9e" stroke-width="0.7"/>
<circle cx="130.6" cy="150.2" r="1.35" fill="none" stroke="#9ede9e" stroke-width="0.7"/>
<circle cx="99.8" cy="193.9" r="1.35" fill="none" stroke="#9ede9e" stroke-width="0.7"/>
<circle cx="87.8" cy="134.6" r="1.35" fill="none" stroke="#9898d4" stroke-width="0.7"/>
<circle cx="70.4" cy="138.4" r="1.35" fill="none" stroke="#9898d4" stroke-width="0.7"/>
<circle cx="104.9" cy="172.1" r="1.35" fill="none" stroke="#9ede9e" stroke-width="0.7"/>
<circle cx="119.5" cy="186.6" r="1.35" fill="none" stroke="#9ede9e" stroke-width="0.7"/>
<circle cx="141.8" cy="138.5" r="1.35" fill="none" stroke="#9ede9e" stroke-width="0.7"/>
<circle cx="85.2" cy="133.5" r="1.35" fill="none" stroke="#9898d4" stroke-width="0.7"/>
<circle cx="94.2" cy="177.8" r="1.35" fill="none" stroke="#9ede9e" stroke-width="0.7"/>
<circle cx="114.5" cy="134.3" r="1.35" fill="none" stroke="#9ede9e" stroke-width="0.7"/>
<circle cx="109.0" cy="180.3" r="1.35" fill="none" stroke="#9ede9e" stroke-width="0.7"/>
<circle cx="134.2" cy="152.4" r="1.35" fill="none" stroke="#9ede9e" stroke-width="0.7"/>
<circle cx="81.8" cy="129.4" r="1.35" fill="none" stroke="#9898d4" stroke-width="0.7"/>
<circle cx="96.6" cy="168.3" r="1.35" fill="none" stroke="#9ede9e" stroke-width="0.7"/>
<circle cx="82.9" cy="106.4" r="1.35" fill="none" stroke="#9898d4" stroke-width="0.7"/>
<circle cx="69.5" cy="147.4" r="1.35" fill="none" stroke="#9898d4" stroke-width="0.7"/>
<circle cx="114.6" cy="179.4" r="1.35" fill="none" stroke="#9ede9e" stroke-width="0.7"/>
<circle cx="154.6" cy="99.7" r="1.35" fill="none" stroke="#9ede9e" stroke-width="0.7"/>
<circle cx="129.0" cy="182.5" r="1.35" fill="none" stroke="#e8d4a4" stroke-width="0.7"/>
<circle cx="113.6" cy="182.8" r="1.35" fill="none" stroke="#9ede9e" stroke-width="0.7"/>
<circle cx="99.7" cy="179.7" r="1.35" fill="none" stroke="#9ede9e" stroke-width="0.7"/>
<circle cx="106.4" cy="194.6" r="1.35" fill="none" stroke="#9ede9e" stroke-width="0.7"/>
<circle cx="87.2" cy="171.1" r="1.35" fill="none" stroke="#9898d4" stroke-width="0.7"/>
<circle cx="98.5" cy="198.2" r="1.35" fill="none" stroke="#9ede9e" stroke-width="0.7"/>
<circle cx="119.6" cy="196.4" r="1.35" fill="none" stroke="#e8d4a4" stroke-width="0.7"/>
<circle cx="178.0" cy="164.3" r="1.35" fill="none" stroke="#e8d4a4" stroke-width="0.7"/>
<circle cx="94.1" cy="195.8" r="1.35" fill="none" stroke="#9ede9e" stroke-width="0.7"/>
<circle cx="83.8" cy="160.0" r="1.35" fill="none" stroke="#9898d4" stroke-width="0.7"/>
<circle cx="153.6" cy="179.0" r="1.35" fill="none" stroke="#e8d4a4" stroke-width="0.7"/>
<circle cx="105.8" cy="161.6" r="1.35" fill="none" stroke="#9ede9e" stroke-width="0.7"/>
<circle cx="188.5" cy="147.6" r="1.35" fill="none" stroke="#e8d4a4" stroke-width="0.7"/>
<circle cx="140.6" cy="154.6" r="1.35" fill="none" stroke="#9ede9e" stroke-width="0.7"/>
<circle cx="110.4" cy="173.6" r="1.35" fill="none" stroke="#9ede9e" stroke-width="0.7"/>
<circle cx="141.4" cy="139.1" r="1.35" fill="none" stroke="#9ede9e" stroke-width="0.7"/>
<circle cx="68.2" cy="118.3" r="1.35" fill="none" stroke="#9898d4" stroke-width="0.7"/>
<circle cx="123.1" cy="157.3" r="1.35" fill="none" stroke="#9ede9e" stroke-width="0.7"/>
<circle cx="96.7" cy="169.0" r="1.35" fill="none" stroke="#9ede9e" stroke-width="0.7"/>
<circle cx="105.8" cy="181.7" r="1.35" fill="none" stroke="#9ede9e" stroke-width="0.7"/>
<circle cx="101.1" cy="192.2" r="1.35" fill="none" stroke="#9ede9e" stroke-width="0.7"/>
<circle cx="88.3" cy="154.8" r="1.35" fill="none" stroke="#9898d4" stroke-width="0.7"/>
<circle cx="102.8" cy="186.0" r="1.35" fill="none" stroke="#9ede9e" stroke-width="0.7"/>
<circle cx="130.9" cy="140.1" r="1.35" fill="none" stroke="#9ede9e" stroke-width="0.7"/>
<circle cx="99.8" cy="189.7" r="1.35" fill="none" stroke="#9ede9e" stroke-width="0.7"/>
<circle cx="93.6" cy="187.8" r="1.35" fill="none" stroke="#9ede9e" stroke-width="0.7"/>
<circle cx="115.2" cy="150.8" r="1.35" fill="none" stroke="#9ede9e" stroke-width="0.7"/>
<circle cx="108.2" cy="175.8" r="1.35" fill="none" stroke="#9ede9e" stroke-width="0.7"/>
<circle cx="71.9" cy="148.4" r="1.35" fill="none" stroke="#9898d4" stroke-width="0.7"/>
<circle cx="103.3" cy="167.3" r="1.35" fill="none" stroke="#9ede9e" stroke-width="0.7"/>
<circle cx="79.3" cy="143.3" r="1.35" fill="none" stroke="#9898d4" stroke-width="0.7"/>
<circle cx="97.2" cy="156.7" r="1.35" fill="none" stroke="#9ede9e" stroke-width="0.7"/>
<circle cx="104.4" cy="162.9" r="1.35" fill="none" stroke="#9ede9e" stroke-width="0.7"/>
<circle cx="103.5" cy="196.5" r="1.35" fill="none" stroke="#9ede9e" stroke-width="0.7"/>
<circle cx="152.2" cy="174.9" r="1.35" fill="none" stroke="#e8d4a4" stroke-width="0.7"/>
<circle cx="93.8" cy="164.7" r="1.35" fill="none" stroke="#9ede9e" stroke-width="0.7"/>
<circle cx="83.2" cy="157.8" r="1.35" fill="none" stroke="#9898d4" stroke-width="0.7"/>
<circle cx="83.0" cy="112.6" r="1.35" fill="none" stroke="#9898d4" stroke-width="0.7"/>
<circle cx="133.0" cy="151.0" r="1.35" fill="none" stroke="#9ede9e" stroke-width="0.7"/>
<circle cx="133.9" cy="163.8" r="1.35" fill="none" stroke="#9ede9e" stroke-width="0.7"/>
<circle cx="95.9" cy="194.9" r="1.35" fill="none" stroke="#9ede9e" stroke-width="0.7"/>
<circle cx="130.5" cy="185.5" r="1.35" fill="none" stroke="#e8d4a4" stroke-width="0.7"/>
<circle cx="167.3" cy="161.9" r="1.35" fill="none" stroke="#e8d4a4" stroke-width="0.7"/>
<circle cx="110.9" cy="170.2" r="1.35" fill="none" stroke="#9ede9e" stroke-width="0.7"/>
<circle cx="94.5" cy="195.4" r="1.35" fill="none" stroke="#9ede9e" stroke-width="0.7"/>
<circle cx="106.5" cy="194.2" r="1.35" fill="none" stroke="#9ede9e" stroke-width="0.7"/>
<circle cx="95.3" cy="188.0" r="1.35" fill="none" stroke="#9ede9e" stroke-width="0.7"/>
<circle cx="94.3" cy="178.1" r="1.35" fill="none" stroke="#9ede9e" stroke-width="0.7"/>
<circle cx="107.7" cy="189.3" r="1.35" fill="none" stroke="#9ede9e" stroke-width="0.7"/>
<circle cx="123.3" cy="161.3" r="1.35" fill="none" stroke="#9ede9e" stroke-width="0.7"/>
<circle cx="133.4" cy="172.3" r="1.35" fill="none" stroke="#9ede9e" stroke-width="0.7"/>
<circle cx="90.2" cy="148.1" r="1.35" fill="none" stroke="#9898d4" stroke-width="0.7"/>
<circle cx="65.4" cy="152.2" r="1.35" fill="none" stroke="#9898d4" stroke-width="0.7"/>
<circle cx="98.3" cy="187.7" r="1.35" fill="none" stroke="#9ede9e" stroke-width="0.7"/>
<circle cx="97.2" cy="159.5" r="1.35" fill="none" stroke="#9ede9e" stroke-width="0.7"/>
<circle cx="179.7" cy="162.4" r="1.35" fill="none" stroke="#e8d4a4" stroke-width="0.7"/>
<circle cx="191.2" cy="149.8" r="1.35" fill="none" stroke="#e8d4a4" stroke-width="0.7"/>
<circle cx="96.6" cy="132.8" r="1.35" fill="none" stroke="#9ede9e" stroke-width="0.7"/>
<circle cx="66.1" cy="103.7" r="1.35" fill="none" stroke="#9898d4" stroke-width="0.7"/>
<circle cx="98.6" cy="180.0" r="1.35" fill="none" stroke="#9ede9e" stroke-width="0.7"/>
<circle cx="103.4" cy="159.6" r="1.35" fill="none" stroke="#9ede9e" stroke-width="0.7"/>
<circle cx="150.7" cy="146.6" r="1.35" fill="none" stroke="#9ede9e" stroke-width="0.7"/>
<circle cx="133.0" cy="199.4" r="1.35" fill="none" stroke="#e8d4a4" stroke-width="0.7"/>
<circle cx="103.4" cy="184.4" r="1.35" fill="none" stroke="#9ede9e" stroke-width="0.7"/>
<circle cx="62.4" cy="151.5" r="1.35" fill="none" stroke="#9898d4" stroke-width="0.7"/>
<circle cx="73.9" cy="121.3" r="1.35" fill="none" stroke="#9898d4" stroke-width="0.7"/>
<circle cx="100.1" cy="196.6" r="1.35" fill="none" stroke="#9ede9e" stroke-width="0.7"/>
<circle cx="129.9" cy="189.8" r="1.35" fill="none" stroke="#e8d4a4" stroke-width="0.7"/>
<circle cx="53.9" cy="105.2" r="1.35" fill="none" stroke="#9898d4" stroke-width="0.7"/>
<circle cx="154.7" cy="183.1" r="1.35" fill="none" stroke="#e8d4a4" stroke-width="0.7"/>
<circle cx="99.7" cy="177.7" r="1.35" fill="none" stroke="#9ede9e" stroke-width="0.7"/>
<circle cx="107.9" cy="192.5" r="1.35" fill="none" stroke="#9ede9e" stroke-width="0.7"/>
<circle cx="96.5" cy="189.6" r="1.35" fill="none" stroke="#9ede9e" stroke-width="0.7"/>
<circle cx="136.1" cy="179.5" r="1.35" fill="none" stroke="#e8d4a4" stroke-width="0.7"/>
<circle cx="87.3" cy="138.6" r="1.35" fill="none" stroke="#9898d4" stroke-width="0.7"/>
<circle cx="108.1" cy="176.1" r="1.35" fill="none" stroke="#9ede9e" stroke-width="0.7"/>
<circle cx="88.7" cy="141.9" r="1.35" fill="none" stroke="#9898d4" stroke-width="0.7"/>
<circle cx="98.1" cy="192.8" r="1.35" fill="none" stroke="#9ede9e" stroke-width="0.7"/>
<circle cx="86.9" cy="131.2" r="1.35" fill="none" stroke="#9898d4" stroke-width="0.7"/>
<circle cx="116.5" cy="175.6" r="1.35" fill="none" stroke="#9ede9e" stroke-width="0.7"/>
<circle cx="101.1" cy="163.3" r="1.35" fill="none" stroke="#9ede9e" stroke-width="0.7"/>
<circle cx="97.6" cy="176.7" r="1.35" fill="none" stroke="#9ede9e" stroke-width="0.7"/>
<circle cx="114.6" cy="182.0" r="1.35" fill="none" stroke="#9ede9e" stroke-width="0.7"/>
<circle cx="98.1" cy="182.9" r="1.35" fill="none" stroke="#9ede9e" stroke-width="0.7"/>
<circle cx="101.8" cy="170.8" r="1.35" fill="none" stroke="#9ede9e" stroke-width="0.7"/>
<circle cx="101.8" cy="192.9" r="1.35" fill="none" stroke="#9ede9e" stroke-width="0.7"/>
<circle cx="103.2" cy="196.4" r="1.35" fill="none" stroke="#9ede9e" stroke-width="0.7"/>
<circle cx="122.2" cy="160.5" r="1.35" fill="none" stroke="#9ede9e" stroke-width="0.7"/>
<circle cx="139.6" cy="136.3" r="1.35" fill="none" stroke="#9ede9e" stroke-width="0.7"/>
<circle cx="196.4" cy="145.7" r="1.35" fill="none" stroke="#e8d4a4" stroke-width="0.7"/>
<circle cx="110.9" cy="186.3" r="1.35" fill="none" stroke="#9ede9e" stroke-width="0.7"/>
<circle cx="188.0" cy="165.2" r="1.35" fill="none" stroke="#e8d4a4" stroke-width="0.7"/>
<circle cx="144.2" cy="192.6" r="1.35" fill="none" stroke="#e8d4a4" stroke-width="0.7"/>
<circle cx="102.4" cy="169.1" r="1.35" fill="none" stroke="#9ede9e" stroke-width="0.7"/>
<circle cx="125.0" cy="159.1" r="1.35" fill="none" stroke="#9ede9e" stroke-width="0.7"/>
<circle cx="95.2" cy="174.4" r="1.35" fill="none" stroke="#9ede9e" stroke-width="0.7"/>
<circle cx="86.1" cy="169.4" r="1.35" fill="none" stroke="#9898d4" stroke-width="0.7"/>
<circle cx="157.8" cy="179.0" r="1.35" fill="none" stroke="#e8d4a4" stroke-width="0.7"/>
<circle cx="114.7" cy="168.3" r="1.35" fill="none" stroke="#9ede9e" stroke-width="0.7"/>
<circle cx="106.4" cy="193.9" r="1.35" fill="none" stroke="#9ede9e" stroke-width="0.7"/>
<circle cx="139.4" cy="194.1" r="1.35" fill="none" stroke="#e8d4a4" stroke-width="0.7"/>
<circle cx="146.9" cy="107.0" r="1.35" fill="none" stroke="#9ede9e" stroke-width="0.7"/>
<circle cx="125.5" cy="176.0" r="1.35" fill="none" stroke="#9ede9e" stroke-width="0.7"/>
<circle cx="159.9" cy="182.5" r="1.35" fill="none" stroke="#e8d4a4" stroke-width="0.7"/>
<circle cx="99.3" cy="179.0" r="1.35" fill="none" stroke="#9ede9e" stroke-width="0.7"/>
<circle cx="71.9" cy="169.9" r="1.35" fill="none" stroke="#9898d4" stroke-width="0.7"/>
<circle cx="133.3" cy="166.4" r="1.35" fill="none" stroke="#9ede9e" stroke-width="0.7"/>
<circle cx="142.0" cy="180.5" r="1.35" fill="none" stroke="#e8d4a4" stroke-width="0.7"/>
<circle cx="104.9" cy="177.2" r="1.35" fill="none" stroke="#9ede9e" stroke-width="0.7"/>
<circle cx="118.8" cy="170.4" r="1.35" fill="none" stroke="#9ede9e" stroke-width="0.7"/>
<circle cx="158.3" cy="172.0" r="1.35" fill="none" stroke="#e8d4a4" stroke-width="0.7"/>
<circle cx="108.8" cy="188.4" r="1.35" fill="none" stroke="#9ede9e" stroke-width="0.7"/>
<circle cx="137.6" cy="195.2" r="1.35" fill="none" stroke="#e8d4a4" stroke-width="0.7"/>
<circle cx="102.6" cy="191.8" r="1.35" fill="none" stroke="#9ede9e" stroke-width="0.7"/>
<circle cx="133.4" cy="180.4" r="1.35" fill="none" stroke="#e8d4a4" stroke-width="0.7"/>
<circle cx="57.8" cy="140.6" r="1.35" fill="none" stroke="#9898d4" stroke-width="0.7"/>
<circle cx="151.7" cy="121.4" r="1.35" fill="none" stroke="#9ede9e" stroke-width="0.7"/>
<circle cx="67.9" cy="133.2" r="1.35" fill="none" stroke="#9898d4" stroke-width="0.7"/>
<circle cx="85.1" cy="147.8" r="1.35" fill="none" stroke="#9898d4" stroke-width="0.7"/>
<circle cx="153.6" cy="134.0" r="1.35" fill="none" stroke="#9ede9e" stroke-width="0.7"/>
<circle cx="54.8" cy="130.7" r="1.35" fill="none" stroke="#9898d4" stroke-width="0.7"/>
<circle cx="156.6" cy="155.3" r="1.35" fill="none" stroke="#9ede9e" stroke-width="0.7"/>
<circle cx="196.2" cy="151.7" r="1.35" fill="none" stroke="#e8d4a4" stroke-width="0.7"/>
<circle cx="191.0" cy="141.1" r="1.35" fill="none" stroke="#9ede9e" stroke-width="0.7"/>
<circle cx="92.7" cy="200.3" r="1.35" fill="none" stroke="#9ede9e" stroke-width="0.7"/>
<circle cx="122.3" cy="179.3" r="1.35" fill="none" stroke="#9ede9e" stroke-width="0.7"/>
<circle cx="137.8" cy="189.7" r="1.35" fill="none" stroke="#e8d4a4" stroke-width="0.7"/>
<circle cx="120.7" cy="201.9" r="1.35" fill="none" stroke="#e8d4a4" stroke-width="0.7"/>
<circle cx="85.2" cy="120.4" r="1.35" fill="none" stroke="#9898d4" stroke-width="0.7"/>
<circle cx="153.0" cy="186.9" r="1.35" fill="none" stroke="#e8d4a4" stroke-width="0.7"/>
<circle cx="97.4" cy="171.3" r="1.35" fill="none" stroke="#9ede9e" stroke-width="0.7"/>
<circle cx="93.1" cy="201.8" r="1.35" fill="none" stroke="#9ede9e" stroke-width="0.7"/>
<circle cx="62.0" cy="118.8" r="1.35" fill="none" stroke="#9898d4" stroke-width="0.7"/>
<circle cx="110.7" cy="175.9" r="1.35" fill="none" stroke="#9ede9e" stroke-width="0.7"/>
<circle cx="121.5" cy="146.7" r="1.35" fill="none" stroke="#9ede9e" stroke-width="0.7"/>
<circle cx="107.9" cy="149.9" r="1.35" fill="none" stroke="#9ede9e" stroke-width="0.7"/>
<circle cx="98.5" cy="195.4" r="1.35" fill="none" stroke="#9ede9e" stroke-width="0.7"/>
<circle cx="145.4" cy="88.1" r="1.35" fill="none" stroke="#9ede9e" stroke-width="0.7"/>
<circle cx="74.4" cy="152.2" r="1.35" fill="none" stroke="#9898d4" stroke-width="0.7"/>
<circle cx="166.4" cy="160.3" r="1.35" fill="none" stroke="#e8d4a4" stroke-width="0.7"/>
<circle cx="69.8" cy="142.7" r="1.35" fill="none" stroke="#9898d4" stroke-width="0.7"/>
<circle cx="201.0" cy="144.3" r="1.35" fill="none" stroke="#e8d4a4" stroke-width="0.7"/>
<circle cx="85.0" cy="123.9" r="1.35" fill="none" stroke="#9898d4" stroke-width="0.7"/>
<circle cx="104.7" cy="160.4" r="1.35" fill="none" stroke="#9ede9e" stroke-width="0.7"/>
<circle cx="104.1" cy="186.8" r="1.35" fill="none" stroke="#9ede9e" stroke-width="0.7"/>
<circle cx="103.1" cy="193.5" r="1.35" fill="none" stroke="#9ede9e" stroke-width="0.7"/>
<circle cx="104.3" cy="160.4" r="1.35" fill="none" stroke="#9ede9e" stroke-width="0.7"/>
<circle cx="103.9" cy="192.6" r="1.35" fill="none" stroke="#9ede9e" stroke-width="0.7"/>
<circle cx="95.8" cy="166.1" r="1.35" fill="none" stroke="#9ede9e" stroke-width="0.7"/>
<circle cx="105.8" cy="192.2" r="1.35" fill="none" stroke="#9ede9e" stroke-width="0.7"/>
<circle cx="89.8" cy="173.1" r="1.35" fill="none" stroke="#9898d4" stroke-width="0.7"/>
<circle cx="109.8" cy="157.5" r="1.35" fill="none" stroke="#9ede9e" stroke-width="0.7"/>
<circle cx="81.0" cy="169.5" r="1.35" fill="none" stroke="#9898d4" stroke-width="0.7"/>
<circle cx="115.4" cy="131.6" r="1.35" fill="none" stroke="#9ede9e" stroke-width="0.7"/>
<circle cx="75.6" cy="128.3" r="1.35" fill="none" stroke="#9898d4" stroke-width="0.7"/>
<circle cx="79.8" cy="169.4" r="1.35" fill="none" stroke="#9898d4" stroke-width="0.7"/>
<circle cx="93.4" cy="170.4" r="1.35" fill="none" stroke="#9ede9e" stroke-width="0.7"/>
<circle cx="95.1" cy="179.2" r="1.35" fill="none" stroke="#9ede9e" stroke-width="0.7"/>
<circle cx="87.2" cy="124.8" r="1.35" fill="none" stroke="#9898d4" stroke-width="0.7"/>
<circle cx="143.8" cy="189.3" r="1.35" fill="none" stroke="#e8d4a4" stroke-width="0.7"/>
<circle cx="95.4" cy="179.4" r="1.35" fill="none" stroke="#9ede9e" stroke-width="0.7"/>
<circle cx="139.3" cy="144.4" r="1.35" fill="none" stroke="#9ede9e" stroke-width="0.7"/>
<circle cx="151.5" cy="125.1" r="1.35" fill="none" stroke="#9ede9e" stroke-width="0.7"/>
<circle cx="85.5" cy="156.8" r="1.35" fill="none" stroke="#9898d4" stroke-width="0.7"/>
<circle cx="97.9" cy="166.2" r="1.35" fill="none" stroke="#9ede9e" stroke-width="0.7"/>
<circle cx="179.6" cy="168.5" r="1.35" fill="none" stroke="#e8d4a4" stroke-width="0.7"/>
<circle cx="126.0" cy="189.8" r="1.35" fill="none" stroke="#e8d4a4" stroke-width="0.7"/>
<circle cx="62.9" cy="92.3" r="1.35" fill="none" stroke="#9898d4" stroke-width="0.7"/>
<circle cx="106.6" cy="138.8" r="1.35" fill="none" stroke="#9ede9e" stroke-width="0.7"/>
<circle cx="158.0" cy="165.1" r="1.35" fill="none" stroke="#e8d4a4" stroke-width="0.7"/>
<circle cx="80.5" cy="178.3" r="1.35" fill="none" stroke="#9898d4" stroke-width="0.7"/>
<circle cx="133.0" cy="132.7" r="1.35" fill="none" stroke="#9ede9e" stroke-width="0.7"/>
<circle cx="83.3" cy="179.6" r="1.35" fill="none" stroke="#9898d4" stroke-width="0.7"/>
<circle cx="86.4" cy="144.9" r="1.35" fill="none" stroke="#9898d4" stroke-width="0.7"/>
<circle cx="71.0" cy="132.6" r="1.35" fill="none" stroke="#9898d4" stroke-width="0.7"/>
<circle cx="140.3" cy="138.8" r="1.35" fill="none" stroke="#9ede9e" stroke-width="0.7"/>
<circle cx="126.0" cy="195.7" r="1.35" fill="none" stroke="#e8d4a4" stroke-width="0.7"/>
<circle cx="75.4" cy="131.5" r="1.35" fill="none" stroke="#9898d4" stroke-width="0.7"/>
<circle cx="88.7" cy="168.8" r="1.35" fill="none" stroke="#9898d4" stroke-width="0.7"/>
<circle cx="113.2" cy="189.6" r="1.35" fill="none" stroke="#9ede9e" stroke-width="0.7"/>
<circle cx="96.5" cy="162.3" r="1.35" fill="none" stroke="#9ede9e" stroke-width="0.7"/>
<circle cx="99.3" cy="182.6" r="1.35" fill="none" stroke="#9ede9e" stroke-width="0.7"/>
<circle cx="32.5" cy="61.0" r="1.35" fill="none" stroke="#9898d4" stroke-width="0.7"/>
<circle cx="203.7" cy="144.5" r="1.35" fill="none" stroke="#e8d4a4" stroke-width="0.7"/>
<circle cx="147.5" cy="146.8" r="1.35" fill="none" stroke="#9ede9e" stroke-width="0.7"/>
<circle cx="101.4" cy="163.2" r="1.35" fill="none" stroke="#9ede9e" stroke-width="0.7"/>
<circle cx="98.2" cy="183.7" r="1.35" fill="none" stroke="#9ede9e" stroke-width="0.7"/>
<circle cx="104.5" cy="192.0" r="1.35" fill="none" stroke="#9ede9e" stroke-width="0.7"/>
<circle cx="121.5" cy="192.3" r="1.35" fill="none" stroke="#e8d4a4" stroke-width="0.7"/>
<circle cx="77.0" cy="139.5" r="1.35" fill="none" stroke="#9898d4" stroke-width="0.7"/>
<circle cx="204.6" cy="144.2" r="1.35" fill="none" stroke="#e8d4a4" stroke-width="0.7"/>
<circle cx="91.3" cy="140.6" r="1.35" fill="none" stroke="#9898d4" stroke-width="0.7"/>
<circle cx="95.2" cy="180.2" r="1.35" fill="none" stroke="#9ede9e" stroke-width="0.7"/>
<circle cx="99.1" cy="181.5" r="1.35" fill="none" stroke="#9ede9e" stroke-width="0.7"/>
<circle cx="137.7" cy="148.4" r="1.35" fill="none" stroke="#9ede9e" stroke-width="0.7"/>
<circle cx="82.0" cy="182.0" r="1.35" fill="none" stroke="#9898d4" stroke-width="0.7"/>
<circle cx="97.6" cy="193.1" r="1.35" fill="none" stroke="#9ede9e" stroke-width="0.7"/>
<circle cx="97.2" cy="193.8" r="1.35" fill="none" stroke="#9ede9e" stroke-width="0.7"/>
<circle cx="82.9" cy="169.1" r="1.35" fill="none" stroke="#9898d4" stroke-width="0.7"/>
<circle cx="103.8" cy="161.1" r="1.35" fill="none" stroke="#9ede9e" stroke-width="0.7"/>
<circle cx="141.3" cy="127.0" r="1.35" fill="none" stroke="#9ede9e" stroke-width="0.7"/>
<circle cx="97.6" cy="191.4" r="1.35" fill="none" stroke="#9ede9e" stroke-width="0.7"/>
<circle cx="111.0" cy="142.9" r="1.35" fill="none" stroke="#9ede9e" stroke-width="0.7"/>
<circle cx="76.3" cy="126.3" r="1.35" fill="none" stroke="#9898d4" stroke-width="0.7"/>
<circle cx="83.6" cy="155.2" r="1.35" fill="none" stroke="#9898d4" stroke-width="0.7"/>
<circle cx="114.9" cy="189.3" r="1.35" fill="none" stroke="#9ede9e" stroke-width="0.7"/>
<circle cx="88.7" cy="172.5" r="1.35" fill="none" stroke="#9898d4" stroke-width="0.7"/>
<circle cx="66.2" cy="113.7" r="1.35" fill="none" stroke="#9898d4" stroke-width="0.7"/>
<circle cx="100.0" cy="159.3" r="1.35" fill="none" stroke="#9ede9e" stroke-width="0.7"/>
<circle cx="117.4" cy="201.1" r="1.35" fill="none" stroke="#e8d4a4" stroke-width="0.7"/>
<circle cx="151.0" cy="138.1" r="1.35" fill="none" stroke="#9ede9e" stroke-width="0.7"/>
<circle cx="188.1" cy="156.4" r="1.35" fill="none" stroke="#e8d4a4" stroke-width="0.7"/>
<circle cx="81.2" cy="102.3" r="1.35" fill="none" stroke="#9898d4" stroke-width="0.7"/>
<circle cx="95.1" cy="196.0" r="1.35" fill="none" stroke="#9ede9e" stroke-width="0.7"/>
<circle cx="85.4" cy="144.1" r="1.35" fill="none" stroke="#9898d4" stroke-width="0.7"/>
<circle cx="186.9" cy="152.4" r="1.35" fill="none" stroke="#e8d4a4" stroke-width="0.7"/>
<circle cx="182.5" cy="151.3" r="1.35" fill="none" stroke="#e8d4a4" stroke-width="0.7"/>
<circle cx="100.3" cy="193.0" r="1.35" fill="none" stroke="#9ede9e" stroke-width="0.7"/>
<circle cx="110.3" cy="180.6" r="1.35" fill="none" stroke="#9ede9e" stroke-width="0.7"/>
<circle cx="114.5" cy="188.3" r="1.35" fill="none" stroke="#9ede9e" stroke-width="0.7"/>
<circle cx="157.4" cy="177.9" r="1.35" fill="none" stroke="#e8d4a4" stroke-width="0.7"/>
<circle cx="91.7" cy="150.0" r="1.35" fill="none" stroke="#9898d4" stroke-width="0.7"/>
<circle cx="93.9" cy="193.1" r="1.35" fill="none" stroke="#9ede9e" stroke-width="0.7"/>
<circle cx="111.6" cy="153.2" r="1.35" fill="none" stroke="#9ede9e" stroke-width="0.7"/>
<circle cx="95.3" cy="168.2" r="1.35" fill="none" stroke="#9ede9e" stroke-width="0.7"/>
<circle cx="82.4" cy="165.6" r="1.35" fill="none" stroke="#9898d4" stroke-width="0.7"/>
<circle cx="96.0" cy="188.3" r="1.35" fill="none" stroke="#9ede9e" stroke-width="0.7"/>
<circle cx="112.1" cy="166.8" r="1.35" fill="none" stroke="#9ede9e" stroke-width="0.7"/>
<circle cx="101.2" cy="195.3" r="1.35" fill="none" stroke="#9ede9e" stroke-width="0.7"/>
<circle cx="89.8" cy="174.5" r="1.35" fill="none" stroke="#9898d4" stroke-width="0.7"/>
<circle cx="98.0" cy="194.1" r="1.35" fill="none" stroke="#9ede9e" stroke-width="0.7"/>
<circle cx="111.0" cy="174.7" r="1.35" fill="none" stroke="#9ede9e" stroke-width="0.7"/>
<circle cx="104.0" cy="194.2" r="1.35" fill="none" stroke="#9ede9e" stroke-width="0.7"/>
<circle cx="135.8" cy="182.0" r="1.35" fill="none" stroke="#e8d4a4" stroke-width="0.7"/>
<circle cx="131.9" cy="167.2" r="1.35" fill="none" stroke="#9ede9e" stroke-width="0.7"/>
<circle cx="129.4" cy="193.3" r="1.35" fill="none" stroke="#e8d4a4" stroke-width="0.7"/>
<circle cx="174.7" cy="136.7" r="1.35" fill="none" stroke="#9ede9e" stroke-width="0.7"/>
<circle cx="194.8" cy="154.4" r="1.35" fill="none" stroke="#e8d4a4" stroke-width="0.7"/>
<circle cx="164.4" cy="184.8" r="1.35" fill="none" stroke="#e8d4a4" stroke-width="0.7"/>
<circle cx="110.0" cy="183.4" r="1.35" fill="none" stroke="#9ede9e" stroke-width="0.7"/>
<circle cx="134.0" cy="152.0" r="1.35" fill="none" stroke="#9ede9e" stroke-width="0.7"/>
<circle cx="94.3" cy="190.8" r="1.35" fill="none" stroke="#9ede9e" stroke-width="0.7"/>
<circle cx="100.0" cy="194.0" r="1.35" fill="none" stroke="#9ede9e" stroke-width="0.7"/>
<circle cx="103.0" cy="174.6" r="1.35" fill="none" stroke="#9ede9e" stroke-width="0.7"/>
<circle cx="150.2" cy="187.0" r="1.35" fill="none" stroke="#e8d4a4" stroke-width="0.7"/>
<circle cx="102.2" cy="152.9" r="1.35" fill="none" stroke="#9ede9e" stroke-width="0.7"/>
<circle cx="116.7" cy="175.5" r="1.35" fill="none" stroke="#9ede9e" stroke-width="0.7"/>
<circle cx="194.2" cy="153.9" r="1.35" fill="none" stroke="#e8d4a4" stroke-width="0.7"/>
<circle cx="110.7" cy="133.0" r="1.35" fill="none" stroke="#9ede9e" stroke-width="0.7"/>
<circle cx="75.9" cy="130.7" r="1.35" fill="none" stroke="#9898d4" stroke-width="0.7"/>
<circle cx="183.5" cy="130.9" r="1.35" fill="none" stroke="#9ede9e" stroke-width="0.7"/>
<circle cx="81.0" cy="165.3" r="1.35" fill="none" stroke="#9898d4" stroke-width="0.7"/>
<circle cx="97.3" cy="175.7" r="1.35" fill="none" stroke="#9ede9e" stroke-width="0.7"/>
<circle cx="92.8" cy="162.9" r="1.35" fill="none" stroke="#9ede9e" stroke-width="0.7"/>
<circle cx="124.9" cy="194.2" r="1.35" fill="none" stroke="#e8d4a4" stroke-width="0.7"/>
<circle cx="87.2" cy="152.5" r="1.35" fill="none" stroke="#9898d4" stroke-width="0.7"/>
<circle cx="103.7" cy="194.4" r="1.35" fill="none" stroke="#9ede9e" stroke-width="0.7"/>
<circle cx="57.6" cy="90.2" r="1.35" fill="none" stroke="#9898d4" stroke-width="0.7"/>
<circle cx="65.7" cy="163.5" r="1.35" fill="none" stroke="#9898d4" stroke-width="0.7"/>
<circle cx="64.7" cy="132.5" r="1.35" fill="none" stroke="#9898d4" stroke-width="0.7"/>
<circle cx="112.6" cy="185.5" r="1.35" fill="none" stroke="#9ede9e" stroke-width="0.7"/>
<circle cx="94.3" cy="184.8" r="1.35" fill="none" stroke="#9ede9e" stroke-width="0.7"/>
<circle cx="107.2" cy="178.0" r="1.35" fill="none" stroke="#9ede9e" stroke-width="0.7"/>
<circle cx="119.4" cy="145.3" r="1.35" fill="none" stroke="#9ede9e" stroke-width="0.7"/>
<circle cx="107.0" cy="194.4" r="1.35" fill="none" stroke="#9ede9e" stroke-width="0.7"/>
<circle cx="112.7" cy="180.1" r="1.35" fill="none" stroke="#9ede9e" stroke-width="0.7"/>
<circle cx="95.2" cy="164.9" r="1.35" fill="none" stroke="#9ede9e" stroke-width="0.7"/>
<circle cx="94.2" cy="177.1" r="1.35" fill="none" stroke="#9ede9e" stroke-width="0.7"/>
<circle cx="165.4" cy="105.2" r="1.35" fill="none" stroke="#9ede9e" stroke-width="0.7"/>
<circle cx="74.2" cy="118.6" r="1.35" fill="none" stroke="#9898d4" stroke-width="0.7"/>
<circle cx="146.9" cy="178.4" r="1.35" fill="none" stroke="#e8d4a4" stroke-width="0.7"/>
<circle cx="98.5" cy="178.7" r="1.35" fill="none" stroke="#9ede9e" stroke-width="0.7"/>
<circle cx="176.2" cy="160.6" r="1.35" fill="none" stroke="#e8d4a4" stroke-width="0.7"/>
<circle cx="88.3" cy="152.2" r="1.35" fill="none" stroke="#9898d4" stroke-width="0.7"/>
<circle cx="93.3" cy="200.2" r="1.35" fill="none" stroke="#9ede9e" stroke-width="0.7"/>
<circle cx="88.4" cy="169.9" r="1.35" fill="none" stroke="#9898d4" stroke-width="0.7"/>
<circle cx="130.6" cy="146.7" r="1.35" fill="none" stroke="#9ede9e" stroke-width="0.7"/>
<circle cx="84.5" cy="164.0" r="1.35" fill="none" stroke="#9898d4" stroke-width="0.7"/>
<circle cx="191.5" cy="155.3" r="1.35" fill="none" stroke="#e8d4a4" stroke-width="0.7"/>
<circle cx="126.6" cy="174.2" r="1.35" fill="none" stroke="#9ede9e" stroke-width="0.7"/>
<circle cx="103.3" cy="113.3" r="1.35" fill="none" stroke="#9ede9e" stroke-width="0.7"/>
<circle cx="117.4" cy="181.1" r="1.35" fill="none" stroke="#9ede9e" stroke-width="0.7"/>
<circle cx="90.3" cy="153.2" r="1.35" fill="none" stroke="#9898d4" stroke-width="0.7"/>
<circle cx="117.1" cy="195.7" r="1.35" fill="none" stroke="#e8d4a4" stroke-width="0.7"/>
<circle cx="106.5" cy="172.3" r="1.35" fill="none" stroke="#9ede9e" stroke-width="0.7"/>
<circle cx="99.6" cy="187.5" r="1.35" fill="none" stroke="#9ede9e" stroke-width="0.7"/>
<circle cx="136.3" cy="129.8" r="1.35" fill="none" stroke="#9ede9e" stroke-width="0.7"/>
<circle cx="186.6" cy="154.5" r="1.35" fill="none" stroke="#e8d4a4" stroke-width="0.7"/>
<circle cx="100.2" cy="169.2" r="1.35" fill="none" stroke="#9ede9e" stroke-width="0.7"/>
<circle cx="116.0" cy="188.0" r="1.35" fill="none" stroke="#9ede9e" stroke-width="0.7"/>
<circle cx="104.0" cy="179.3" r="1.35" fill="none" stroke="#9ede9e" stroke-width="0.7"/>
<circle cx="61.0" cy="101.2" r="1.35" fill="none" stroke="#9898d4" stroke-width="0.7"/>
<circle cx="67.8" cy="146.4" r="1.35" fill="none" stroke="#9898d4" stroke-width="0.7"/>
<circle cx="83.9" cy="160.7" r="1.35" fill="none" stroke="#9898d4" stroke-width="0.7"/>
<circle cx="137.2" cy="179.3" r="1.35" fill="none" stroke="#e8d4a4" stroke-width="0.7"/>
<line x1="92.7" y1="2.2" x2="92.7" y2="215.1" stroke="#858585" stroke-width="1.8"/>
<line x1="23.2" y1="205.2" x2="230.6" y2="205.2" stroke="#858585" stroke-width="1.8"/>
<line x1="92.7" y1="204.7" x2="221.8" y2="102.3" stroke="#111" stroke-width="1.2" stroke-dasharray="4 2 1 2"/>
<ellipse cx="72.6" cy="131.6" rx="18.7" ry="57" transform="rotate(-12.4 72.6 131.6)" fill="none" stroke="#2a7fd4" stroke-width="1.7" stroke-dasharray="4.2 2.8"/>
<ellipse cx="131" cy="133.9" rx="76.8" ry="20" transform="rotate(-60.7 131 133.9)" fill="none" stroke="#1fa24a" stroke-width="1.7" stroke-dasharray="4.2 2.8"/>
<ellipse cx="158.8" cy="172.8" rx="59.8" ry="14.6" transform="rotate(-30.3 158.8 172.8)" fill="none" stroke="#e0701e" stroke-width="1.7" stroke-dasharray="4.2 2.8"/>
<line x1="21.4" y1="204.7" x2="23.2" y2="204.7" stroke="#9a9a9a" stroke-width="0.8"/>
<text x="21.9" y="209.6" font-size="12.5" text-anchor="end" textLength="5.8" lengthAdjust="spacingAndGlyphs" fill="#1a1a1a" stroke="#1a1a1a" stroke-width="0.3">0</text>
<line x1="21.4" y1="166.9" x2="23.2" y2="166.9" stroke="#9a9a9a" stroke-width="0.8"/>
<text x="21.9" y="171.8" font-size="12.5" text-anchor="end" textLength="11.6" lengthAdjust="spacingAndGlyphs" fill="#1a1a1a" stroke="#1a1a1a" stroke-width="0.3">10</text>
<line x1="21.4" y1="129.0" x2="23.2" y2="129.0" stroke="#9a9a9a" stroke-width="0.8"/>
<text x="21.9" y="133.9" font-size="12.5" text-anchor="end" textLength="11.6" lengthAdjust="spacingAndGlyphs" fill="#1a1a1a" stroke="#1a1a1a" stroke-width="0.3">20</text>
<line x1="21.4" y1="91.2" x2="23.2" y2="91.2" stroke="#9a9a9a" stroke-width="0.8"/>
<text x="21.9" y="96.1" font-size="12.5" text-anchor="end" textLength="11.6" lengthAdjust="spacingAndGlyphs" fill="#1a1a1a" stroke="#1a1a1a" stroke-width="0.3">30</text>
<line x1="21.4" y1="53.3" x2="23.2" y2="53.3" stroke="#9a9a9a" stroke-width="0.8"/>
<text x="21.9" y="58.2" font-size="12.5" text-anchor="end" textLength="11.6" lengthAdjust="spacingAndGlyphs" fill="#1a1a1a" stroke="#1a1a1a" stroke-width="0.3">40</text>
<line x1="21.4" y1="15.5" x2="23.2" y2="15.5" stroke="#9a9a9a" stroke-width="0.8"/>
<text x="21.9" y="20.4" font-size="12.5" text-anchor="end" textLength="11.6" lengthAdjust="spacingAndGlyphs" fill="#1a1a1a" stroke="#1a1a1a" stroke-width="0.3">50</text>
<line x1="44.9" y1="215.1" x2="44.9" y2="217.2" stroke="#aaaaaa" stroke-width="0.8"/>
<text x="44.9" y="226" font-size="11.8" text-anchor="middle" textLength="15.2" lengthAdjust="spacingAndGlyphs" fill="#1a1a1a" stroke="#1a1a1a" stroke-width="0.3">-10</text>
<line x1="92.7" y1="215.1" x2="92.7" y2="217.2" stroke="#aaaaaa" stroke-width="0.8"/>
<text x="92.7" y="226" font-size="11.8" text-anchor="middle" textLength="5.6" lengthAdjust="spacingAndGlyphs" fill="#1a1a1a" stroke="#1a1a1a" stroke-width="0.3">0</text>
<line x1="140.5" y1="215.1" x2="140.5" y2="217.2" stroke="#aaaaaa" stroke-width="0.8"/>
<text x="140.5" y="226" font-size="11.8" text-anchor="middle" textLength="10.8" lengthAdjust="spacingAndGlyphs" fill="#1a1a1a" stroke="#1a1a1a" stroke-width="0.3">10</text>
<line x1="188.3" y1="215.1" x2="188.3" y2="217.2" stroke="#aaaaaa" stroke-width="0.8"/>
<text x="188.3" y="226" font-size="11.8" text-anchor="middle" textLength="11.2" lengthAdjust="spacingAndGlyphs" fill="#1a1a1a" stroke="#1a1a1a" stroke-width="0.3">20</text>
<text x="89" y="236" font-size="12.2" textLength="74.5" lengthAdjust="spacingAndGlyphs" fill="#1a1a1a" stroke="#1a1a1a" stroke-width="0.3">Water Loss (cm)</text>
<text transform="translate(9.3 153.3) rotate(-90)" x="0" y="0" font-size="11.2" textLength="91" lengthAdjust="spacingAndGlyphs" fill="#1a1a1a" stroke="#1a1a1a" stroke-width="0.3">Water Gain (cm)</text>
<text x="29.2" y="16.3" font-family="Liberation Serif, serif" font-weight="bold" font-size="13.5" fill="#111">A</text>
<text transform="translate(204 112.5) rotate(-40)" font-family="Liberation Serif, serif" font-weight="bold" font-size="15" fill="#111">1:1</text>
<rect x="189.2" y="3" width="40.8" height="40.5" fill="#fff"/>
<text x="190.8" y="11.8" font-size="9.8" font-weight="bold" textLength="24.2" lengthAdjust="spacingAndGlyphs" fill="#111" stroke="#111" stroke-width="0.3">Zones</text>
<rect x="192" y="14.0" width="7.8" height="9.45" fill="#fff" stroke="#ececec" stroke-width="0.7"/>
<circle cx="195.8" cy="18.5" r="1.4" fill="none" stroke="#8c8cd0" stroke-width="0.8"/>
<text x="201" y="21.7" font-size="9.4" textLength="22.8" lengthAdjust="spacingAndGlyphs" fill="#1a1a1a" stroke="#1a1a1a" stroke-width="0.3">Zone I</text>
<rect x="192" y="23.4" width="7.8" height="9.45" fill="#fff" stroke="#ececec" stroke-width="0.7"/>
<circle cx="195.8" cy="27.9" r="1.4" fill="none" stroke="#90dc90" stroke-width="0.8"/>
<text x="201" y="31.1" font-size="9.4" textLength="25.8" lengthAdjust="spacingAndGlyphs" fill="#1a1a1a" stroke="#1a1a1a" stroke-width="0.3">Zone II</text>
<rect x="192" y="32.9" width="7.8" height="9.45" fill="#fff" stroke="#ececec" stroke-width="0.7"/>
<circle cx="195.8" cy="37.4" r="1.4" fill="none" stroke="#e6cc8a" stroke-width="0.8"/>
<text x="201" y="40.6" font-size="9.4" textLength="28" lengthAdjust="spacingAndGlyphs" fill="#1a1a1a" stroke="#1a1a1a" stroke-width="0.3">Zone III</text>
<rect x="258.3" y="2.6" width="185.89999999999998" height="191.9" fill="#fff" stroke="#bdbdbd" stroke-width="1"/>
<g shape-rendering="crispEdges">
<rect x="336.33" y="14.12" width="4.34" height="5.32" fill="#06da06"/>
<rect x="340.67" y="14.12" width="4.34" height="5.32" fill="#06da06"/>
<rect x="388.45" y="14.12" width="4.34" height="5.32" fill="#06da06"/>
<rect x="340.67" y="19.45" width="4.34" height="5.32" fill="#0010c4"/>
<rect x="345.02" y="19.45" width="4.34" height="5.32" fill="#06da06"/>
<rect x="349.36" y="19.45" width="4.34" height="5.32" fill="#06da06"/>
<rect x="353.70" y="19.45" width="4.34" height="5.32" fill="#06da06"/>
<rect x="358.04" y="19.45" width="4.34" height="5.32" fill="#06da06"/>
<rect x="362.39" y="19.45" width="4.34" height="5.32" fill="#06da06"/>
<rect x="388.45" y="19.45" width="4.34" height="5.32" fill="#06da06"/>
<rect x="336.33" y="24.77" width="4.34" height="5.32" fill="#1e98ec"/>
<rect x="340.67" y="24.77" width="4.34" height="5.32" fill="#1468e0"/>
<rect x="345.02" y="24.77" width="4.34" height="5.32" fill="#1468e0"/>
<rect x="349.36" y="24.77" width="4.34" height="5.32" fill="#1468e0"/>
<rect x="353.70" y="24.77" width="4.34" height="5.32" fill="#0834d0"/>
<rect x="358.04" y="24.77" width="4.34" height="5.32" fill="#0010c4"/>
<rect x="388.45" y="24.77" width="4.34" height="5.32" fill="#06da06"/>
<rect x="392.79" y="24.77" width="4.34" height="5.32" fill="#06da06"/>
<rect x="318.96" y="30.09" width="4.34" height="5.32" fill="#1468e0"/>
<rect x="323.30" y="30.09" width="4.34" height="5.32" fill="#1e98ec"/>
<rect x="331.99" y="30.09" width="4.34" height="5.32" fill="#24b8ec"/>
<rect x="336.33" y="30.09" width="4.34" height="5.32" fill="#24b8ec"/>
<rect x="340.67" y="30.09" width="4.34" height="5.32" fill="#24b8ec"/>
<rect x="345.02" y="30.09" width="4.34" height="5.32" fill="#24b8ec"/>
<rect x="349.36" y="30.09" width="4.34" height="5.32" fill="#24b8ec"/>
<rect x="353.70" y="30.09" width="4.34" height="5.32" fill="#24b8ec"/>
<rect x="358.04" y="30.09" width="4.34" height="5.32" fill="#24b8ec"/>
<rect x="388.45" y="30.09" width="4.34" height="5.32" fill="#06da06"/>
<rect x="392.79" y="30.09" width="4.34" height="5.32" fill="#06da06"/>
<rect x="397.13" y="30.09" width="4.34" height="5.32" fill="#06da06"/>
<rect x="310.27" y="35.42" width="4.34" height="5.32" fill="#06da06"/>
<rect x="314.61" y="35.42" width="4.34" height="5.32" fill="#06da06"/>
<rect x="318.96" y="35.42" width="4.34" height="5.32" fill="#0010c4"/>
<rect x="323.30" y="35.42" width="4.34" height="5.32" fill="#0010c4"/>
<rect x="327.64" y="35.42" width="4.34" height="5.32" fill="#1468e0"/>
<rect x="331.99" y="35.42" width="4.34" height="5.32" fill="#1e98ec"/>
<rect x="336.33" y="35.42" width="4.34" height="5.32" fill="#24b8ec"/>
<rect x="340.67" y="35.42" width="4.34" height="5.32" fill="#24b8ec"/>
<rect x="345.02" y="35.42" width="4.34" height="5.32" fill="#24b8ec"/>
<rect x="349.36" y="35.42" width="4.34" height="5.32" fill="#24b8ec"/>
<rect x="353.70" y="35.42" width="4.34" height="5.32" fill="#24b8ec"/>
<rect x="358.04" y="35.42" width="4.34" height="5.32" fill="#24b8ec"/>
<rect x="362.39" y="35.42" width="4.34" height="5.32" fill="#24b8ec"/>
<rect x="384.10" y="35.42" width="4.34" height="5.32" fill="#0010c4"/>
<rect x="388.45" y="35.42" width="4.34" height="5.32" fill="#0010c4"/>
<rect x="392.79" y="35.42" width="4.34" height="5.32" fill="#0010c4"/>
<rect x="397.13" y="35.42" width="4.34" height="5.32" fill="#0010c4"/>
<rect x="305.93" y="40.74" width="4.34" height="5.32" fill="#06da06"/>
<rect x="310.27" y="40.74" width="4.34" height="5.32" fill="#06da06"/>
<rect x="314.61" y="40.74" width="4.34" height="5.32" fill="#06da06"/>
<rect x="318.96" y="40.74" width="4.34" height="5.32" fill="#06da06"/>
<rect x="323.30" y="40.74" width="4.34" height="5.32" fill="#06da06"/>
<rect x="327.64" y="40.74" width="4.34" height="5.32" fill="#06da06"/>
<rect x="331.99" y="40.74" width="4.34" height="5.32" fill="#0010c4"/>
<rect x="336.33" y="40.74" width="4.34" height="5.32" fill="#0010c4"/>
<rect x="340.67" y="40.74" width="4.34" height="5.32" fill="#1468e0"/>
<rect x="345.02" y="40.74" width="4.34" height="5.32" fill="#1e98ec"/>
<rect x="349.36" y="40.74" width="4.34" height="5.32" fill="#1e98ec"/>
<rect x="353.70" y="40.74" width="4.34" height="5.32" fill="#24b8ec"/>
<rect x="358.04" y="40.74" width="4.34" height="5.32" fill="#24b8ec"/>
<rect x="362.39" y="40.74" width="4.34" height="5.32" fill="#24b8ec"/>
<rect x="366.73" y="40.74" width="4.34" height="5.32" fill="#24b8ec"/>
<rect x="371.07" y="40.74" width="4.34" height="5.32" fill="#1e98ec"/>
<rect x="384.10" y="40.74" width="4.34" height="5.32" fill="#1468e0"/>
<rect x="388.45" y="40.74" width="4.34" height="5.32" fill="#1468e0"/>
<rect x="392.79" y="40.74" width="4.34" height="5.32" fill="#1468e0"/>
<rect x="397.13" y="40.74" width="4.34" height="5.32" fill="#1468e0"/>
<rect x="301.59" y="46.06" width="4.34" height="5.32" fill="#eef440"/>
<rect x="305.93" y="46.06" width="4.34" height="5.32" fill="#c0f46c"/>
<rect x="310.27" y="46.06" width="4.34" height="5.32" fill="#c0f46c"/>
<rect x="314.61" y="46.06" width="4.34" height="5.32" fill="#3ee428"/>
<rect x="318.96" y="46.06" width="4.34" height="5.32" fill="#3ee428"/>
<rect x="323.30" y="46.06" width="4.34" height="5.32" fill="#3ee428"/>
<rect x="327.64" y="46.06" width="4.34" height="5.32" fill="#3ee428"/>
<rect x="331.99" y="46.06" width="4.34" height="5.32" fill="#06da06"/>
<rect x="336.33" y="46.06" width="4.34" height="5.32" fill="#06da06"/>
<rect x="340.67" y="46.06" width="4.34" height="5.32" fill="#06da06"/>
<rect x="345.02" y="46.06" width="4.34" height="5.32" fill="#0010c4"/>
<rect x="349.36" y="46.06" width="4.34" height="5.32" fill="#0010c4"/>
<rect x="353.70" y="46.06" width="4.34" height="5.32" fill="#0010c4"/>
<rect x="358.04" y="46.06" width="4.34" height="5.32" fill="#0834d0"/>
<rect x="362.39" y="46.06" width="4.34" height="5.32" fill="#1468e0"/>
<rect x="366.73" y="46.06" width="4.34" height="5.32" fill="#1468e0"/>
<rect x="371.07" y="46.06" width="4.34" height="5.32" fill="#1e98ec"/>
<rect x="375.42" y="46.06" width="4.34" height="5.32" fill="#1e98ec"/>
<rect x="379.76" y="46.06" width="4.34" height="5.32" fill="#24b8ec"/>
<rect x="384.10" y="46.06" width="4.34" height="5.32" fill="#24b8ec"/>
<rect x="388.45" y="46.06" width="4.34" height="5.32" fill="#24b8ec"/>
<rect x="392.79" y="46.06" width="4.34" height="5.32" fill="#24b8ec"/>
<rect x="397.13" y="46.06" width="4.34" height="5.32" fill="#24b8ec"/>
<rect x="401.47" y="46.06" width="4.34" height="5.32" fill="#24b8ec"/>
<rect x="301.59" y="51.38" width="4.34" height="5.32" fill="#ff7000"/>
<rect x="305.93" y="51.38" width="4.34" height="5.32" fill="#eef440"/>
<rect x="310.27" y="51.38" width="4.34" height="5.32" fill="#eef440"/>
<rect x="314.61" y="51.38" width="4.34" height="5.32" fill="#eef440"/>
<rect x="318.96" y="51.38" width="4.34" height="5.32" fill="#eef440"/>
<rect x="323.30" y="51.38" width="4.34" height="5.32" fill="#c0f46c"/>
<rect x="327.64" y="51.38" width="4.34" height="5.32" fill="#c0f46c"/>
<rect x="331.99" y="51.38" width="4.34" height="5.32" fill="#86ee48"/>
<rect x="336.33" y="51.38" width="4.34" height="5.32" fill="#86ee48"/>
<rect x="340.67" y="51.38" width="4.34" height="5.32" fill="#3ee428"/>
<rect x="345.02" y="51.38" width="4.34" height="5.32" fill="#3ee428"/>
<rect x="349.36" y="51.38" width="4.34" height="5.32" fill="#06da06"/>
<rect x="353.70" y="51.38" width="4.34" height="5.32" fill="#06da06"/>
<rect x="358.04" y="51.38" width="4.34" height="5.32" fill="#0010c4"/>
<rect x="362.39" y="51.38" width="4.34" height="5.32" fill="#0010c4"/>
<rect x="366.73" y="51.38" width="4.34" height="5.32" fill="#0834d0"/>
<rect x="371.07" y="51.38" width="4.34" height="5.32" fill="#1468e0"/>
<rect x="375.42" y="51.38" width="4.34" height="5.32" fill="#1e98ec"/>
<rect x="379.76" y="51.38" width="4.34" height="5.32" fill="#24b8ec"/>
<rect x="384.10" y="51.38" width="4.34" height="5.32" fill="#24b8ec"/>
<rect x="388.45" y="51.38" width="4.34" height="5.32" fill="#24b8ec"/>
<rect x="392.79" y="51.38" width="4.34" height="5.32" fill="#24b8ec"/>
<rect x="397.13" y="51.38" width="4.34" height="5.32" fill="#24b8ec"/>
<rect x="401.47" y="51.38" width="4.34" height="5.32" fill="#24b8ec"/>
<rect x="405.82" y="51.38" width="4.34" height="5.32" fill="#24b8ec"/>
<rect x="297.24" y="56.71" width="4.34" height="5.32" fill="#ff1c00"/>
<rect x="301.59" y="56.71" width="4.34" height="5.32" fill="#ff1c00"/>
<rect x="305.93" y="56.71" width="4.34" height="5.32" fill="#ff3c00"/>
<rect x="310.27" y="56.71" width="4.34" height="5.32" fill="#ff7000"/>
<rect x="314.61" y="56.71" width="4.34" height="5.32" fill="#ff7000"/>
<rect x="318.96" y="56.71" width="4.34" height="5.32" fill="#ff7000"/>
<rect x="323.30" y="56.71" width="4.34" height="5.32" fill="#eef440"/>
<rect x="327.64" y="56.71" width="4.34" height="5.32" fill="#eef440"/>
<rect x="331.99" y="56.71" width="4.34" height="5.32" fill="#c0f46c"/>
<rect x="336.33" y="56.71" width="4.34" height="5.32" fill="#86ee48"/>
<rect x="340.67" y="56.71" width="4.34" height="5.32" fill="#86ee48"/>
<rect x="345.02" y="56.71" width="4.34" height="5.32" fill="#3ee428"/>
<rect x="349.36" y="56.71" width="4.34" height="5.32" fill="#3ee428"/>
<rect x="353.70" y="56.71" width="4.34" height="5.32" fill="#3ee428"/>
<rect x="358.04" y="56.71" width="4.34" height="5.32" fill="#06da06"/>
<rect x="362.39" y="56.71" width="4.34" height="5.32" fill="#06da06"/>
<rect x="366.73" y="56.71" width="4.34" height="5.32" fill="#0010c4"/>
<rect x="371.07" y="56.71" width="4.34" height="5.32" fill="#0010c4"/>
<rect x="375.42" y="56.71" width="4.34" height="5.32" fill="#0834d0"/>
<rect x="379.76" y="56.71" width="4.34" height="5.32" fill="#1e98ec"/>
<rect x="384.10" y="56.71" width="4.34" height="5.32" fill="#24b8ec"/>
<rect x="388.45" y="56.71" width="4.34" height="5.32" fill="#24b8ec"/>
<rect x="392.79" y="56.71" width="4.34" height="5.32" fill="#24b8ec"/>
<rect x="397.13" y="56.71" width="4.34" height="5.32" fill="#24b8ec"/>
<rect x="401.47" y="56.71" width="4.34" height="5.32" fill="#24b8ec"/>
<rect x="405.82" y="56.71" width="4.34" height="5.32" fill="#24b8ec"/>
<rect x="284.21" y="62.03" width="4.34" height="5.32" fill="#ff1c00"/>
<rect x="288.56" y="62.03" width="4.34" height="5.32" fill="#ff1c00"/>
<rect x="292.90" y="62.03" width="4.34" height="5.32" fill="#ff1c00"/>
<rect x="297.24" y="62.03" width="4.34" height="5.32" fill="#ff1c00"/>
<rect x="301.59" y="62.03" width="4.34" height="5.32" fill="#ff1c00"/>
<rect x="305.93" y="62.03" width="4.34" height="5.32" fill="#ff1c00"/>
<rect x="310.27" y="62.03" width="4.34" height="5.32" fill="#ff1c00"/>
<rect x="314.61" y="62.03" width="4.34" height="5.32" fill="#ff1c00"/>
<rect x="318.96" y="62.03" width="4.34" height="5.32" fill="#ff1c00"/>
<rect x="323.30" y="62.03" width="4.34" height="5.32" fill="#ff1c00"/>
<rect x="327.64" y="62.03" width="4.34" height="5.32" fill="#ff1c00"/>
<rect x="331.99" y="62.03" width="4.34" height="5.32" fill="#eef440"/>
<rect x="336.33" y="62.03" width="4.34" height="5.32" fill="#c0f46c"/>
<rect x="340.67" y="62.03" width="4.34" height="5.32" fill="#c0f46c"/>
<rect x="345.02" y="62.03" width="4.34" height="5.32" fill="#86ee48"/>
<rect x="349.36" y="62.03" width="4.34" height="5.32" fill="#86ee48"/>
<rect x="353.70" y="62.03" width="4.34" height="5.32" fill="#86ee48"/>
<rect x="358.04" y="62.03" width="4.34" height="5.32" fill="#3ee428"/>
<rect x="362.39" y="62.03" width="4.34" height="5.32" fill="#3ee428"/>
<rect x="366.73" y="62.03" width="4.34" height="5.32" fill="#06da06"/>
<rect x="371.07" y="62.03" width="4.34" height="5.32" fill="#0010c4"/>
<rect x="375.42" y="62.03" width="4.34" height="5.32" fill="#0010c4"/>
<rect x="379.76" y="62.03" width="4.34" height="5.32" fill="#1468e0"/>
<rect x="384.10" y="62.03" width="4.34" height="5.32" fill="#1e98ec"/>
<rect x="388.45" y="62.03" width="4.34" height="5.32" fill="#24b8ec"/>
<rect x="392.79" y="62.03" width="4.34" height="5.32" fill="#24b8ec"/>
<rect x="397.13" y="62.03" width="4.34" height="5.32" fill="#24b8ec"/>
<rect x="401.47" y="62.03" width="4.34" height="5.32" fill="#24b8ec"/>
<rect x="405.82" y="62.03" width="4.34" height="5.32" fill="#24b8ec"/>
<rect x="410.16" y="62.03" width="4.34" height="5.32" fill="#24b8ec"/>
<rect x="271.19" y="67.35" width="4.34" height="5.32" fill="#ff1c00"/>
<rect x="275.53" y="67.35" width="4.34" height="5.32" fill="#ff1c00"/>
<rect x="279.87" y="67.35" width="4.34" height="5.32" fill="#ff1c00"/>
<rect x="284.21" y="67.35" width="4.34" height="5.32" fill="#ff1c00"/>
<rect x="288.56" y="67.35" width="4.34" height="5.32" fill="#ff1c00"/>
<rect x="292.90" y="67.35" width="4.34" height="5.32" fill="#ff1c00"/>
<rect x="297.24" y="67.35" width="4.34" height="5.32" fill="#ff1c00"/>
<rect x="301.59" y="67.35" width="4.34" height="5.32" fill="#ff1c00"/>
<rect x="305.93" y="67.35" width="4.34" height="5.32" fill="#ff3c00"/>
<rect x="310.27" y="67.35" width="4.34" height="5.32" fill="#ff3c00"/>
<rect x="314.61" y="67.35" width="4.34" height="5.32" fill="#ff1c00"/>
<rect x="318.96" y="67.35" width="4.34" height="5.32" fill="#ff1c00"/>
<rect x="323.30" y="67.35" width="4.34" height="5.32" fill="#ff1c00"/>
<rect x="327.64" y="67.35" width="4.34" height="5.32" fill="#ff1c00"/>
<rect x="331.99" y="67.35" width="4.34" height="5.32" fill="#ff1c00"/>
<rect x="336.33" y="67.35" width="4.34" height="5.32" fill="#eef440"/>
<rect x="340.67" y="67.35" width="4.34" height="5.32" fill="#eef440"/>
<rect x="345.02" y="67.35" width="4.34" height="5.32" fill="#eef440"/>
<rect x="349.36" y="67.35" width="4.34" height="5.32" fill="#eef440"/>
<rect x="353.70" y="67.35" width="4.34" height="5.32" fill="#eef440"/>
<rect x="358.04" y="67.35" width="4.34" height="5.32" fill="#86ee48"/>
<rect x="362.39" y="67.35" width="4.34" height="5.32" fill="#86ee48"/>
<rect x="366.73" y="67.35" width="4.34" height="5.32" fill="#06da06"/>
<rect x="371.07" y="67.35" width="4.34" height="5.32" fill="#06da06"/>
<rect x="375.42" y="67.35" width="4.34" height="5.32" fill="#0010c4"/>
<rect x="379.76" y="67.35" width="4.34" height="5.32" fill="#0010c4"/>
<rect x="384.10" y="67.35" width="4.34" height="5.32" fill="#1e98ec"/>
<rect x="388.45" y="67.35" width="4.34" height="5.32" fill="#24b8ec"/>
<rect x="392.79" y="67.35" width="4.34" height="5.32" fill="#24b8ec"/>
<rect x="397.13" y="67.35" width="4.34" height="5.32" fill="#24b8ec"/>
<rect x="401.47" y="67.35" width="4.34" height="5.32" fill="#24b8ec"/>
<rect x="405.82" y="67.35" width="4.34" height="5.32" fill="#24b8ec"/>
<rect x="410.16" y="67.35" width="4.34" height="5.32" fill="#24b8ec"/>
<rect x="414.50" y="67.35" width="4.34" height="5.32" fill="#24b8ec"/>
<rect x="266.84" y="72.68" width="4.34" height="5.32" fill="#ff3c00"/>
<rect x="271.19" y="72.68" width="4.34" height="5.32" fill="#ff3c00"/>
<rect x="275.53" y="72.68" width="4.34" height="5.32" fill="#ff3c00"/>
<rect x="279.87" y="72.68" width="4.34" height="5.32" fill="#ff3c00"/>
<rect x="284.21" y="72.68" width="4.34" height="5.32" fill="#ff3c00"/>
<rect x="288.56" y="72.68" width="4.34" height="5.32" fill="#ff3c00"/>
<rect x="292.90" y="72.68" width="4.34" height="5.32" fill="#ff3c00"/>
<rect x="297.24" y="72.68" width="4.34" height="5.32" fill="#ff3c00"/>
<rect x="301.59" y="72.68" width="4.34" height="5.32" fill="#ff3c00"/>
<rect x="305.93" y="72.68" width="4.34" height="5.32" fill="#ff3c00"/>
<rect x="310.27" y="72.68" width="4.34" height="5.32" fill="#ff3c00"/>
<rect x="314.61" y="72.68" width="4.34" height="5.32" fill="#ff3c00"/>
<rect x="318.96" y="72.68" width="4.34" height="5.32" fill="#ff3c00"/>
<rect x="323.30" y="72.68" width="4.34" height="5.32" fill="#ff3c00"/>
<rect x="327.64" y="72.68" width="4.34" height="5.32" fill="#ff3c00"/>
<rect x="331.99" y="72.68" width="4.34" height="5.32" fill="#ff3c00"/>
<rect x="336.33" y="72.68" width="4.34" height="5.32" fill="#ff3c00"/>
<rect x="340.67" y="72.68" width="4.34" height="5.32" fill="#ff3c00"/>
<rect x="345.02" y="72.68" width="4.34" height="5.32" fill="#eef440"/>
<rect x="349.36" y="72.68" width="4.34" height="5.32" fill="#eef440"/>
<rect x="353.70" y="72.68" width="4.34" height="5.32" fill="#eef440"/>
<rect x="358.04" y="72.68" width="4.34" height="5.32" fill="#c0f46c"/>
<rect x="362.39" y="72.68" width="4.34" height="5.32" fill="#c0f46c"/>
<rect x="366.73" y="72.68" width="4.34" height="5.32" fill="#06da06"/>
<rect x="371.07" y="72.68" width="4.34" height="5.32" fill="#06da06"/>
<rect x="375.42" y="72.68" width="4.34" height="5.32" fill="#06da06"/>
<rect x="379.76" y="72.68" width="4.34" height="5.32" fill="#06da06"/>
<rect x="384.10" y="72.68" width="4.34" height="5.32" fill="#0010c4"/>
<rect x="388.45" y="72.68" width="4.34" height="5.32" fill="#1468e0"/>
<rect x="392.79" y="72.68" width="4.34" height="5.32" fill="#1e98ec"/>
<rect x="397.13" y="72.68" width="4.34" height="5.32" fill="#1e98ec"/>
<rect x="401.47" y="72.68" width="4.34" height="5.32" fill="#1e98ec"/>
<rect x="405.82" y="72.68" width="4.34" height="5.32" fill="#1e98ec"/>
<rect x="410.16" y="72.68" width="4.34" height="5.32" fill="#1468e0"/>
<rect x="414.50" y="72.68" width="4.34" height="5.32" fill="#1468e0"/>
<rect x="418.85" y="72.68" width="4.34" height="5.32" fill="#0834d0"/>
<rect x="266.84" y="78.00" width="4.34" height="5.32" fill="#ff3c00"/>
<rect x="271.19" y="78.00" width="4.34" height="5.32" fill="#ff5600"/>
<rect x="275.53" y="78.00" width="4.34" height="5.32" fill="#ff5600"/>
<rect x="279.87" y="78.00" width="4.34" height="5.32" fill="#ff5600"/>
<rect x="284.21" y="78.00" width="4.34" height="5.32" fill="#ff5600"/>
<rect x="288.56" y="78.00" width="4.34" height="5.32" fill="#ff5600"/>
<rect x="292.90" y="78.00" width="4.34" height="5.32" fill="#ff5600"/>
<rect x="297.24" y="78.00" width="4.34" height="5.32" fill="#ff5600"/>
<rect x="301.59" y="78.00" width="4.34" height="5.32" fill="#ff5600"/>
<rect x="305.93" y="78.00" width="4.34" height="5.32" fill="#ff5600"/>
<rect x="310.27" y="78.00" width="4.34" height="5.32" fill="#ff5600"/>
<rect x="314.61" y="78.00" width="4.34" height="5.32" fill="#ff5600"/>
<rect x="318.96" y="78.00" width="4.34" height="5.32" fill="#ff5600"/>
<rect x="323.30" y="78.00" width="4.34" height="5.32" fill="#ff5600"/>
<rect x="327.64" y="78.00" width="4.34" height="5.32" fill="#ff5600"/>
<rect x="331.99" y="78.00" width="4.34" height="5.32" fill="#ff5600"/>
<rect x="336.33" y="78.00" width="4.34" height="5.32" fill="#ff5600"/>
<rect x="340.67" y="78.00" width="4.34" height="5.32" fill="#ff5600"/>
<rect x="345.02" y="78.00" width="4.34" height="5.32" fill="#ff5600"/>
<rect x="349.36" y="78.00" width="4.34" height="5.32" fill="#eef440"/>
<rect x="353.70" y="78.00" width="4.34" height="5.32" fill="#eef440"/>
<rect x="358.04" y="78.00" width="4.34" height="5.32" fill="#c0f46c"/>
<rect x="362.39" y="78.00" width="4.34" height="5.32" fill="#86ee48"/>
<rect x="366.73" y="78.00" width="4.34" height="5.32" fill="#06da06"/>
<rect x="371.07" y="78.00" width="4.34" height="5.32" fill="#06da06"/>
<rect x="375.42" y="78.00" width="4.34" height="5.32" fill="#06da06"/>
<rect x="379.76" y="78.00" width="4.34" height="5.32" fill="#06da06"/>
<rect x="384.10" y="78.00" width="4.34" height="5.32" fill="#06da06"/>
<rect x="388.45" y="78.00" width="4.34" height="5.32" fill="#0010c4"/>
<rect x="392.79" y="78.00" width="4.34" height="5.32" fill="#1468e0"/>
<rect x="397.13" y="78.00" width="4.34" height="5.32" fill="#1468e0"/>
<rect x="401.47" y="78.00" width="4.34" height="5.32" fill="#1468e0"/>
<rect x="405.82" y="78.00" width="4.34" height="5.32" fill="#1468e0"/>
<rect x="410.16" y="78.00" width="4.34" height="5.32" fill="#1468e0"/>
<rect x="414.50" y="78.00" width="4.34" height="5.32" fill="#0834d0"/>
<rect x="418.85" y="78.00" width="4.34" height="5.32" fill="#0010c4"/>
<rect x="423.19" y="78.00" width="4.34" height="5.32" fill="#0010c4"/>
<rect x="262.50" y="83.32" width="4.34" height="5.32" fill="#ff3c00"/>
<rect x="266.84" y="83.32" width="4.34" height="5.32" fill="#ff5600"/>
<rect x="271.19" y="83.32" width="4.34" height="5.32" fill="#ff5600"/>
<rect x="275.53" y="83.32" width="4.34" height="5.32" fill="#ff5600"/>
<rect x="279.87" y="83.32" width="4.34" height="5.32" fill="#ff5600"/>
<rect x="284.21" y="83.32" width="4.34" height="5.32" fill="#ff5600"/>
<rect x="288.56" y="83.32" width="4.34" height="5.32" fill="#ff7000"/>
<rect x="292.90" y="83.32" width="4.34" height="5.32" fill="#ff7000"/>
<rect x="297.24" y="83.32" width="4.34" height="5.32" fill="#ff7000"/>
<rect x="301.59" y="83.32" width="4.34" height="5.32" fill="#ff7000"/>
<rect x="305.93" y="83.32" width="4.34" height="5.32" fill="#ff7000"/>
<rect x="310.27" y="83.32" width="4.34" height="5.32" fill="#ff7000"/>
<rect x="314.61" y="83.32" width="4.34" height="5.32" fill="#ff7000"/>
<rect x="318.96" y="83.32" width="4.34" height="5.32" fill="#ff7000"/>
<rect x="323.30" y="83.32" width="4.34" height="5.32" fill="#ff7000"/>
<rect x="327.64" y="83.32" width="4.34" height="5.32" fill="#ff7000"/>
<rect x="331.99" y="83.32" width="4.34" height="5.32" fill="#ff7000"/>
<rect x="336.33" y="83.32" width="4.34" height="5.32" fill="#ff7000"/>
<rect x="340.67" y="83.32" width="4.34" height="5.32" fill="#ff7000"/>
<rect x="345.02" y="83.32" width="4.34" height="5.32" fill="#ff7000"/>
<rect x="349.36" y="83.32" width="4.34" height="5.32" fill="#eef440"/>
<rect x="353.70" y="83.32" width="4.34" height="5.32" fill="#eef440"/>
<rect x="358.04" y="83.32" width="4.34" height="5.32" fill="#c0f46c"/>
<rect x="362.39" y="83.32" width="4.34" height="5.32" fill="#c0f46c"/>
<rect x="366.73" y="83.32" width="4.34" height="5.32" fill="#06da06"/>
<rect x="371.07" y="83.32" width="4.34" height="5.32" fill="#06da06"/>
<rect x="375.42" y="83.32" width="4.34" height="5.32" fill="#06da06"/>
<rect x="379.76" y="83.32" width="4.34" height="5.32" fill="#06da06"/>
<rect x="384.10" y="83.32" width="4.34" height="5.32" fill="#06da06"/>
<rect x="388.45" y="83.32" width="4.34" height="5.32" fill="#06da06"/>
<rect x="392.79" y="83.32" width="4.34" height="5.32" fill="#0010c4"/>
<rect x="397.13" y="83.32" width="4.34" height="5.32" fill="#0010c4"/>
<rect x="401.47" y="83.32" width="4.34" height="5.32" fill="#0010c4"/>
<rect x="405.82" y="83.32" width="4.34" height="5.32" fill="#0010c4"/>
<rect x="410.16" y="83.32" width="4.34" height="5.32" fill="#0010c4"/>
<rect x="414.50" y="83.32" width="4.34" height="5.32" fill="#0010c4"/>
<rect x="418.85" y="83.32" width="4.34" height="5.32" fill="#0010c4"/>
<rect x="423.19" y="83.32" width="4.34" height="5.32" fill="#0010c4"/>
<rect x="427.53" y="83.32" width="4.34" height="5.32" fill="#0010c4"/>
<rect x="266.84" y="88.64" width="4.34" height="5.32" fill="#ff5600"/>
<rect x="271.19" y="88.64" width="4.34" height="5.32" fill="#ff7000"/>
<rect x="275.53" y="88.64" width="4.34" height="5.32" fill="#ff7000"/>
<rect x="279.87" y="88.64" width="4.34" height="5.32" fill="#ff7000"/>
<rect x="284.21" y="88.64" width="4.34" height="5.32" fill="#ff7000"/>
<rect x="288.56" y="88.64" width="4.34" height="5.32" fill="#ff8a00"/>
<rect x="292.90" y="88.64" width="4.34" height="5.32" fill="#ff8a00"/>
<rect x="297.24" y="88.64" width="4.34" height="5.32" fill="#ff8a00"/>
<rect x="301.59" y="88.64" width="4.34" height="5.32" fill="#ffa400"/>
<rect x="305.93" y="88.64" width="4.34" height="5.32" fill="#ffa400"/>
<rect x="310.27" y="88.64" width="4.34" height="5.32" fill="#ffa400"/>
<rect x="314.61" y="88.64" width="4.34" height="5.32" fill="#ffa400"/>
<rect x="318.96" y="88.64" width="4.34" height="5.32" fill="#ffa400"/>
<rect x="323.30" y="88.64" width="4.34" height="5.32" fill="#ffa400"/>
<rect x="327.64" y="88.64" width="4.34" height="5.32" fill="#ffa400"/>
<rect x="331.99" y="88.64" width="4.34" height="5.32" fill="#ffa400"/>
<rect x="336.33" y="88.64" width="4.34" height="5.32" fill="#ffa400"/>
<rect x="340.67" y="88.64" width="4.34" height="5.32" fill="#ffa400"/>
<rect x="345.02" y="88.64" width="4.34" height="5.32" fill="#ffa400"/>
<rect x="349.36" y="88.64" width="4.34" height="5.32" fill="#eef440"/>
<rect x="353.70" y="88.64" width="4.34" height="5.32" fill="#eef440"/>
<rect x="358.04" y="88.64" width="4.34" height="5.32" fill="#c0f46c"/>
<rect x="362.39" y="88.64" width="4.34" height="5.32" fill="#c0f46c"/>
<rect x="366.73" y="88.64" width="4.34" height="5.32" fill="#06da06"/>
<rect x="371.07" y="88.64" width="4.34" height="5.32" fill="#06da06"/>
<rect x="375.42" y="88.64" width="4.34" height="5.32" fill="#06da06"/>
<rect x="379.76" y="88.64" width="4.34" height="5.32" fill="#06da06"/>
<rect x="384.10" y="88.64" width="4.34" height="5.32" fill="#06da06"/>
<rect x="388.45" y="88.64" width="4.34" height="5.32" fill="#06da06"/>
<rect x="392.79" y="88.64" width="4.34" height="5.32" fill="#06da06"/>
<rect x="397.13" y="88.64" width="4.34" height="5.32" fill="#0010c4"/>
<rect x="401.47" y="88.64" width="4.34" height="5.32" fill="#0010c4"/>
<rect x="405.82" y="88.64" width="4.34" height="5.32" fill="#0010c4"/>
<rect x="410.16" y="88.64" width="4.34" height="5.32" fill="#0010c4"/>
<rect x="414.50" y="88.64" width="4.34" height="5.32" fill="#0010c4"/>
<rect x="418.85" y="88.64" width="4.34" height="5.32" fill="#0010c4"/>
<rect x="423.19" y="88.64" width="4.34" height="5.32" fill="#0010c4"/>
<rect x="427.53" y="88.64" width="4.34" height="5.32" fill="#0010c4"/>
<rect x="431.88" y="88.64" width="4.34" height="5.32" fill="#0010c4"/>
<rect x="262.50" y="93.97" width="4.34" height="5.32" fill="#ff8a00"/>
<rect x="266.84" y="93.97" width="4.34" height="5.32" fill="#ff8a00"/>
<rect x="271.19" y="93.97" width="4.34" height="5.32" fill="#ff8a00"/>
<rect x="275.53" y="93.97" width="4.34" height="5.32" fill="#ff8a00"/>
<rect x="279.87" y="93.97" width="4.34" height="5.32" fill="#ffa400"/>
<rect x="284.21" y="93.97" width="4.34" height="5.32" fill="#ffa400"/>
<rect x="288.56" y="93.97" width="4.34" height="5.32" fill="#ffa400"/>
<rect x="292.90" y="93.97" width="4.34" height="5.32" fill="#ffa400"/>
<rect x="297.24" y="93.97" width="4.34" height="5.32" fill="#ffa400"/>
<rect x="301.59" y="93.97" width="4.34" height="5.32" fill="#ffd400"/>
<rect x="305.93" y="93.97" width="4.34" height="5.32" fill="#c0f46c"/>
<rect x="310.27" y="93.97" width="4.34" height="5.32" fill="#c0f46c"/>
<rect x="314.61" y="93.97" width="4.34" height="5.32" fill="#c0f46c"/>
<rect x="318.96" y="93.97" width="4.34" height="5.32" fill="#c0f46c"/>
<rect x="323.30" y="93.97" width="4.34" height="5.32" fill="#c0f46c"/>
<rect x="327.64" y="93.97" width="4.34" height="5.32" fill="#c0f46c"/>
<rect x="331.99" y="93.97" width="4.34" height="5.32" fill="#c0f46c"/>
<rect x="336.33" y="93.97" width="4.34" height="5.32" fill="#c0f46c"/>
<rect x="340.67" y="93.97" width="4.34" height="5.32" fill="#c0f46c"/>
<rect x="345.02" y="93.97" width="4.34" height="5.32" fill="#c0f46c"/>
<rect x="349.36" y="93.97" width="4.34" height="5.32" fill="#c0f46c"/>
<rect x="353.70" y="93.97" width="4.34" height="5.32" fill="#c0f46c"/>
<rect x="358.04" y="93.97" width="4.34" height="5.32" fill="#3ee428"/>
<rect x="362.39" y="93.97" width="4.34" height="5.32" fill="#3ee428"/>
<rect x="366.73" y="93.97" width="4.34" height="5.32" fill="#06da06"/>
<rect x="371.07" y="93.97" width="4.34" height="5.32" fill="#06da06"/>
<rect x="375.42" y="93.97" width="4.34" height="5.32" fill="#06da06"/>
<rect x="379.76" y="93.97" width="4.34" height="5.32" fill="#06da06"/>
<rect x="384.10" y="93.97" width="4.34" height="5.32" fill="#06da06"/>
<rect x="388.45" y="93.97" width="4.34" height="5.32" fill="#06da06"/>
<rect x="392.79" y="93.97" width="4.34" height="5.32" fill="#06da06"/>
<rect x="397.13" y="93.97" width="4.34" height="5.32" fill="#06da06"/>
<rect x="401.47" y="93.97" width="4.34" height="5.32" fill="#0010c4"/>
<rect x="405.82" y="93.97" width="4.34" height="5.32" fill="#0010c4"/>
<rect x="410.16" y="93.97" width="4.34" height="5.32" fill="#0010c4"/>
<rect x="414.50" y="93.97" width="4.34" height="5.32" fill="#0834d0"/>
<rect x="418.85" y="93.97" width="4.34" height="5.32" fill="#0834d0"/>
<rect x="423.19" y="93.97" width="4.34" height="5.32" fill="#0834d0"/>
<rect x="427.53" y="93.97" width="4.34" height="5.32" fill="#0834d0"/>
<rect x="431.88" y="93.97" width="4.34" height="5.32" fill="#0834d0"/>
<rect x="266.84" y="99.29" width="4.34" height="5.32" fill="#ff7000"/>
<rect x="271.19" y="99.29" width="4.34" height="5.32" fill="#ff7000"/>
<rect x="275.53" y="99.29" width="4.34" height="5.32" fill="#ff7000"/>
<rect x="279.87" y="99.29" width="4.34" height="5.32" fill="#ff7000"/>
<rect x="284.21" y="99.29" width="4.34" height="5.32" fill="#ffa400"/>
<rect x="288.56" y="99.29" width="4.34" height="5.32" fill="#ffa400"/>
<rect x="292.90" y="99.29" width="4.34" height="5.32" fill="#ffa400"/>
<rect x="297.24" y="99.29" width="4.34" height="5.32" fill="#ffd400"/>
<rect x="301.59" y="99.29" width="4.34" height="5.32" fill="#ffd400"/>
<rect x="305.93" y="99.29" width="4.34" height="5.32" fill="#86ee48"/>
<rect x="310.27" y="99.29" width="4.34" height="5.32" fill="#3ee428"/>
<rect x="314.61" y="99.29" width="4.34" height="5.32" fill="#3ee428"/>
<rect x="318.96" y="99.29" width="4.34" height="5.32" fill="#3ee428"/>
<rect x="323.30" y="99.29" width="4.34" height="5.32" fill="#3ee428"/>
<rect x="327.64" y="99.29" width="4.34" height="5.32" fill="#3ee428"/>
<rect x="331.99" y="99.29" width="4.34" height="5.32" fill="#3ee428"/>
<rect x="336.33" y="99.29" width="4.34" height="5.32" fill="#3ee428"/>
<rect x="340.67" y="99.29" width="4.34" height="5.32" fill="#3ee428"/>
<rect x="345.02" y="99.29" width="4.34" height="5.32" fill="#3ee428"/>
<rect x="349.36" y="99.29" width="4.34" height="5.32" fill="#3ee428"/>
<rect x="353.70" y="99.29" width="4.34" height="5.32" fill="#3ee428"/>
<rect x="358.04" y="99.29" width="4.34" height="5.32" fill="#06da06"/>
<rect x="362.39" y="99.29" width="4.34" height="5.32" fill="#06da06"/>
<rect x="366.73" y="99.29" width="4.34" height="5.32" fill="#06da06"/>
<rect x="371.07" y="99.29" width="4.34" height="5.32" fill="#06da06"/>
<rect x="375.42" y="99.29" width="4.34" height="5.32" fill="#06da06"/>
<rect x="379.76" y="99.29" width="4.34" height="5.32" fill="#06da06"/>
<rect x="384.10" y="99.29" width="4.34" height="5.32" fill="#06da06"/>
<rect x="388.45" y="99.29" width="4.34" height="5.32" fill="#06da06"/>
<rect x="392.79" y="99.29" width="4.34" height="5.32" fill="#06da06"/>
<rect x="397.13" y="99.29" width="4.34" height="5.32" fill="#06da06"/>
<rect x="401.47" y="99.29" width="4.34" height="5.32" fill="#0010c4"/>
<rect x="405.82" y="99.29" width="4.34" height="5.32" fill="#0010c4"/>
<rect x="410.16" y="99.29" width="4.34" height="5.32" fill="#1468e0"/>
<rect x="414.50" y="99.29" width="4.34" height="5.32" fill="#1e98ec"/>
<rect x="418.85" y="99.29" width="4.34" height="5.32" fill="#1e98ec"/>
<rect x="423.19" y="99.29" width="4.34" height="5.32" fill="#1e98ec"/>
<rect x="427.53" y="99.29" width="4.34" height="5.32" fill="#1e98ec"/>
<rect x="431.88" y="99.29" width="4.34" height="5.32" fill="#1e98ec"/>
<rect x="266.84" y="104.61" width="4.34" height="5.32" fill="#ff7000"/>
<rect x="271.19" y="104.61" width="4.34" height="5.32" fill="#ff7000"/>
<rect x="275.53" y="104.61" width="4.34" height="5.32" fill="#ff7000"/>
<rect x="279.87" y="104.61" width="4.34" height="5.32" fill="#ff7000"/>
<rect x="284.21" y="104.61" width="4.34" height="5.32" fill="#ff7000"/>
<rect x="288.56" y="104.61" width="4.34" height="5.32" fill="#ffa400"/>
<rect x="292.90" y="104.61" width="4.34" height="5.32" fill="#ffa400"/>
<rect x="297.24" y="104.61" width="4.34" height="5.32" fill="#ffa400"/>
<rect x="301.59" y="104.61" width="4.34" height="5.32" fill="#ffd400"/>
<rect x="305.93" y="104.61" width="4.34" height="5.32" fill="#86ee48"/>
<rect x="310.27" y="104.61" width="4.34" height="5.32" fill="#06da06"/>
<rect x="314.61" y="104.61" width="4.34" height="5.32" fill="#06da06"/>
<rect x="318.96" y="104.61" width="4.34" height="5.32" fill="#06da06"/>
<rect x="323.30" y="104.61" width="4.34" height="5.32" fill="#06da06"/>
<rect x="327.64" y="104.61" width="4.34" height="5.32" fill="#06da06"/>
<rect x="331.99" y="104.61" width="4.34" height="5.32" fill="#06da06"/>
<rect x="336.33" y="104.61" width="4.34" height="5.32" fill="#06da06"/>
<rect x="340.67" y="104.61" width="4.34" height="5.32" fill="#06da06"/>
<rect x="345.02" y="104.61" width="4.34" height="5.32" fill="#06da06"/>
<rect x="349.36" y="104.61" width="4.34" height="5.32" fill="#06da06"/>
<rect x="353.70" y="104.61" width="4.34" height="5.32" fill="#06da06"/>
<rect x="358.04" y="104.61" width="4.34" height="5.32" fill="#06da06"/>
<rect x="362.39" y="104.61" width="4.34" height="5.32" fill="#06da06"/>
<rect x="366.73" y="104.61" width="4.34" height="5.32" fill="#06da06"/>
<rect x="371.07" y="104.61" width="4.34" height="5.32" fill="#06da06"/>
<rect x="375.42" y="104.61" width="4.34" height="5.32" fill="#06da06"/>
<rect x="379.76" y="104.61" width="4.34" height="5.32" fill="#06da06"/>
<rect x="384.10" y="104.61" width="4.34" height="5.32" fill="#06da06"/>
<rect x="388.45" y="104.61" width="4.34" height="5.32" fill="#06da06"/>
<rect x="392.79" y="104.61" width="4.34" height="5.32" fill="#06da06"/>
<rect x="397.13" y="104.61" width="4.34" height="5.32" fill="#06da06"/>
<rect x="401.47" y="104.61" width="4.34" height="5.32" fill="#0010c4"/>
<rect x="405.82" y="104.61" width="4.34" height="5.32" fill="#0010c4"/>
<rect x="410.16" y="104.61" width="4.34" height="5.32" fill="#1e98ec"/>
<rect x="414.50" y="104.61" width="4.34" height="5.32" fill="#24b8ec"/>
<rect x="418.85" y="104.61" width="4.34" height="5.32" fill="#24b8ec"/>
<rect x="423.19" y="104.61" width="4.34" height="5.32" fill="#24b8ec"/>
<rect x="427.53" y="104.61" width="4.34" height="5.32" fill="#24b8ec"/>
<rect x="431.88" y="104.61" width="4.34" height="5.32" fill="#24b8ec"/>
<rect x="436.22" y="104.61" width="4.34" height="5.32" fill="#24b8ec"/>
<rect x="271.19" y="109.94" width="4.34" height="5.32" fill="#ff7000"/>
<rect x="275.53" y="109.94" width="4.34" height="5.32" fill="#ff7000"/>
<rect x="279.87" y="109.94" width="4.34" height="5.32" fill="#ff7000"/>
<rect x="284.21" y="109.94" width="4.34" height="5.32" fill="#ff7000"/>
<rect x="288.56" y="109.94" width="4.34" height="5.32" fill="#ff7000"/>
<rect x="292.90" y="109.94" width="4.34" height="5.32" fill="#ffa400"/>
<rect x="297.24" y="109.94" width="4.34" height="5.32" fill="#ffa400"/>
<rect x="301.59" y="109.94" width="4.34" height="5.32" fill="#ffd400"/>
<rect x="305.93" y="109.94" width="4.34" height="5.32" fill="#eef440"/>
<rect x="310.27" y="109.94" width="4.34" height="5.32" fill="#06da06"/>
<rect x="314.61" y="109.94" width="4.34" height="5.32" fill="#06da06"/>
<rect x="318.96" y="109.94" width="4.34" height="5.32" fill="#06da06"/>
<rect x="323.30" y="109.94" width="4.34" height="5.32" fill="#06da06"/>
<rect x="327.64" y="109.94" width="4.34" height="5.32" fill="#00c200"/>
<rect x="331.99" y="109.94" width="4.34" height="5.32" fill="#00c200"/>
<rect x="336.33" y="109.94" width="4.34" height="5.32" fill="#00c200"/>
<rect x="340.67" y="109.94" width="4.34" height="5.32" fill="#00c200"/>
<rect x="345.02" y="109.94" width="4.34" height="5.32" fill="#00c200"/>
<rect x="349.36" y="109.94" width="4.34" height="5.32" fill="#00c200"/>
<rect x="353.70" y="109.94" width="4.34" height="5.32" fill="#06da06"/>
<rect x="358.04" y="109.94" width="4.34" height="5.32" fill="#06da06"/>
<rect x="362.39" y="109.94" width="4.34" height="5.32" fill="#06da06"/>
<rect x="366.73" y="109.94" width="4.34" height="5.32" fill="#06da06"/>
<rect x="371.07" y="109.94" width="4.34" height="5.32" fill="#06da06"/>
<rect x="375.42" y="109.94" width="4.34" height="5.32" fill="#06da06"/>
<rect x="379.76" y="109.94" width="4.34" height="5.32" fill="#06da06"/>
<rect x="384.10" y="109.94" width="4.34" height="5.32" fill="#06da06"/>
<rect x="388.45" y="109.94" width="4.34" height="5.32" fill="#06da06"/>
<rect x="392.79" y="109.94" width="4.34" height="5.32" fill="#06da06"/>
<rect x="397.13" y="109.94" width="4.34" height="5.32" fill="#06da06"/>
<rect x="401.47" y="109.94" width="4.34" height="5.32" fill="#06da06"/>
<rect x="405.82" y="109.94" width="4.34" height="5.32" fill="#0010c4"/>
<rect x="410.16" y="109.94" width="4.34" height="5.32" fill="#1e98ec"/>
<rect x="414.50" y="109.94" width="4.34" height="5.32" fill="#24b8ec"/>
<rect x="418.85" y="109.94" width="4.34" height="5.32" fill="#24b8ec"/>
<rect x="423.19" y="109.94" width="4.34" height="5.32" fill="#24b8ec"/>
<rect x="427.53" y="109.94" width="4.34" height="5.32" fill="#24b8ec"/>
<rect x="431.88" y="109.94" width="4.34" height="5.32" fill="#24b8ec"/>
<rect x="436.22" y="109.94" width="4.34" height="5.32" fill="#24b8ec"/>
<rect x="275.53" y="115.26" width="4.34" height="5.32" fill="#ff3c00"/>
<rect x="279.87" y="115.26" width="4.34" height="5.32" fill="#ff3c00"/>
<rect x="284.21" y="115.26" width="4.34" height="5.32" fill="#ff5600"/>
<rect x="288.56" y="115.26" width="4.34" height="5.32" fill="#ff5600"/>
<rect x="292.90" y="115.26" width="4.34" height="5.32" fill="#ff7000"/>
<rect x="297.24" y="115.26" width="4.34" height="5.32" fill="#ff7000"/>
<rect x="301.59" y="115.26" width="4.34" height="5.32" fill="#ffa400"/>
<rect x="305.93" y="115.26" width="4.34" height="5.32" fill="#ffd400"/>
<rect x="310.27" y="115.26" width="4.34" height="5.32" fill="#86ee48"/>
<rect x="314.61" y="115.26" width="4.34" height="5.32" fill="#3ee428"/>
<rect x="318.96" y="115.26" width="4.34" height="5.32" fill="#06da06"/>
<rect x="323.30" y="115.26" width="4.34" height="5.32" fill="#00c200"/>
<rect x="327.64" y="115.26" width="4.34" height="5.32" fill="#00c200"/>
<rect x="331.99" y="115.26" width="4.34" height="5.32" fill="#00c200"/>
<rect x="336.33" y="115.26" width="4.34" height="5.32" fill="#00c200"/>
<rect x="340.67" y="115.26" width="4.34" height="5.32" fill="#00c200"/>
<rect x="345.02" y="115.26" width="4.34" height="5.32" fill="#00c200"/>
<rect x="349.36" y="115.26" width="4.34" height="5.32" fill="#00c200"/>
<rect x="353.70" y="115.26" width="4.34" height="5.32" fill="#06da06"/>
<rect x="358.04" y="115.26" width="4.34" height="5.32" fill="#06da06"/>
<rect x="362.39" y="115.26" width="4.34" height="5.32" fill="#06da06"/>
<rect x="366.73" y="115.26" width="4.34" height="5.32" fill="#06da06"/>
<rect x="371.07" y="115.26" width="4.34" height="5.32" fill="#06da06"/>
<rect x="375.42" y="115.26" width="4.34" height="5.32" fill="#06da06"/>
<rect x="379.76" y="115.26" width="4.34" height="5.32" fill="#06da06"/>
<rect x="384.10" y="115.26" width="4.34" height="5.32" fill="#06da06"/>
<rect x="388.45" y="115.26" width="4.34" height="5.32" fill="#06da06"/>
<rect x="392.79" y="115.26" width="4.34" height="5.32" fill="#06da06"/>
<rect x="397.13" y="115.26" width="4.34" height="5.32" fill="#06da06"/>
<rect x="401.47" y="115.26" width="4.34" height="5.32" fill="#06da06"/>
<rect x="405.82" y="115.26" width="4.34" height="5.32" fill="#0010c4"/>
<rect x="410.16" y="115.26" width="4.34" height="5.32" fill="#0010c4"/>
<rect x="414.50" y="115.26" width="4.34" height="5.32" fill="#1468e0"/>
<rect x="418.85" y="115.26" width="4.34" height="5.32" fill="#1e98ec"/>
<rect x="423.19" y="115.26" width="4.34" height="5.32" fill="#1e98ec"/>
<rect x="427.53" y="115.26" width="4.34" height="5.32" fill="#1e98ec"/>
<rect x="431.88" y="115.26" width="4.34" height="5.32" fill="#1e98ec"/>
<rect x="275.53" y="120.58" width="4.34" height="5.32" fill="#ff5600"/>
<rect x="279.87" y="120.58" width="4.34" height="5.32" fill="#ff5600"/>
<rect x="284.21" y="120.58" width="4.34" height="5.32" fill="#ff5600"/>
<rect x="288.56" y="120.58" width="4.34" height="5.32" fill="#ff5600"/>
<rect x="292.90" y="120.58" width="4.34" height="5.32" fill="#ff5600"/>
<rect x="297.24" y="120.58" width="4.34" height="5.32" fill="#ff5600"/>
<rect x="301.59" y="120.58" width="4.34" height="5.32" fill="#ff7000"/>
<rect x="305.93" y="120.58" width="4.34" height="5.32" fill="#ffa400"/>
<rect x="310.27" y="120.58" width="4.34" height="5.32" fill="#eef440"/>
<rect x="314.61" y="120.58" width="4.34" height="5.32" fill="#86ee48"/>
<rect x="318.96" y="120.58" width="4.34" height="5.32" fill="#06da06"/>
<rect x="323.30" y="120.58" width="4.34" height="5.32" fill="#06da06"/>
<rect x="327.64" y="120.58" width="4.34" height="5.32" fill="#06da06"/>
<rect x="331.99" y="120.58" width="4.34" height="5.32" fill="#06da06"/>
<rect x="336.33" y="120.58" width="4.34" height="5.32" fill="#06da06"/>
<rect x="340.67" y="120.58" width="4.34" height="5.32" fill="#06da06"/>
<rect x="345.02" y="120.58" width="4.34" height="5.32" fill="#06da06"/>
<rect x="349.36" y="120.58" width="4.34" height="5.32" fill="#06da06"/>
<rect x="353.70" y="120.58" width="4.34" height="5.32" fill="#06da06"/>
<rect x="358.04" y="120.58" width="4.34" height="5.32" fill="#06da06"/>
<rect x="362.39" y="120.58" width="4.34" height="5.32" fill="#06da06"/>
<rect x="366.73" y="120.58" width="4.34" height="5.32" fill="#06da06"/>
<rect x="371.07" y="120.58" width="4.34" height="5.32" fill="#06da06"/>
<rect x="375.42" y="120.58" width="4.34" height="5.32" fill="#06da06"/>
<rect x="379.76" y="120.58" width="4.34" height="5.32" fill="#06da06"/>
<rect x="384.10" y="120.58" width="4.34" height="5.32" fill="#06da06"/>
<rect x="388.45" y="120.58" width="4.34" height="5.32" fill="#06da06"/>
<rect x="392.79" y="120.58" width="4.34" height="5.32" fill="#06da06"/>
<rect x="397.13" y="120.58" width="4.34" height="5.32" fill="#06da06"/>
<rect x="401.47" y="120.58" width="4.34" height="5.32" fill="#06da06"/>
<rect x="405.82" y="120.58" width="4.34" height="5.32" fill="#06da06"/>
<rect x="410.16" y="120.58" width="4.34" height="5.32" fill="#06da06"/>
<rect x="414.50" y="120.58" width="4.34" height="5.32" fill="#0010c4"/>
<rect x="418.85" y="120.58" width="4.34" height="5.32" fill="#0010c4"/>
<rect x="423.19" y="120.58" width="4.34" height="5.32" fill="#0010c4"/>
<rect x="427.53" y="120.58" width="4.34" height="5.32" fill="#0010c4"/>
<rect x="431.88" y="120.58" width="4.34" height="5.32" fill="#0010c4"/>
<rect x="271.19" y="125.91" width="4.34" height="5.32" fill="#ff5600"/>
<rect x="275.53" y="125.91" width="4.34" height="5.32" fill="#ff5600"/>
<rect x="279.87" y="125.91" width="4.34" height="5.32" fill="#ff5600"/>
<rect x="284.21" y="125.91" width="4.34" height="5.32" fill="#ff5600"/>
<rect x="288.56" y="125.91" width="4.34" height="5.32" fill="#ff5600"/>
<rect x="292.90" y="125.91" width="4.34" height="5.32" fill="#ff5600"/>
<rect x="297.24" y="125.91" width="4.34" height="5.32" fill="#ff5600"/>
<rect x="301.59" y="125.91" width="4.34" height="5.32" fill="#ff7000"/>
<rect x="305.93" y="125.91" width="4.34" height="5.32" fill="#ff7000"/>
<rect x="310.27" y="125.91" width="4.34" height="5.32" fill="#ffd400"/>
<rect x="353.70" y="125.91" width="4.34" height="5.32" fill="#06da06"/>
<rect x="358.04" y="125.91" width="4.34" height="5.32" fill="#06da06"/>
<rect x="362.39" y="125.91" width="4.34" height="5.32" fill="#06da06"/>
<rect x="366.73" y="125.91" width="4.34" height="5.32" fill="#06da06"/>
<rect x="371.07" y="125.91" width="4.34" height="5.32" fill="#06da06"/>
<rect x="375.42" y="125.91" width="4.34" height="5.32" fill="#06da06"/>
<rect x="379.76" y="125.91" width="4.34" height="5.32" fill="#06da06"/>
<rect x="384.10" y="125.91" width="4.34" height="5.32" fill="#06da06"/>
<rect x="388.45" y="125.91" width="4.34" height="5.32" fill="#06da06"/>
<rect x="392.79" y="125.91" width="4.34" height="5.32" fill="#06da06"/>
<rect x="397.13" y="125.91" width="4.34" height="5.32" fill="#06da06"/>
<rect x="401.47" y="125.91" width="4.34" height="5.32" fill="#06da06"/>
<rect x="405.82" y="125.91" width="4.34" height="5.32" fill="#06da06"/>
<rect x="410.16" y="125.91" width="4.34" height="5.32" fill="#06da06"/>
<rect x="414.50" y="125.91" width="4.34" height="5.32" fill="#06da06"/>
<rect x="418.85" y="125.91" width="4.34" height="5.32" fill="#06da06"/>
<rect x="423.19" y="125.91" width="4.34" height="5.32" fill="#06da06"/>
<rect x="427.53" y="125.91" width="4.34" height="5.32" fill="#0010c4"/>
<rect x="271.19" y="131.23" width="4.34" height="5.32" fill="#ff5600"/>
<rect x="275.53" y="131.23" width="4.34" height="5.32" fill="#ff5600"/>
<rect x="279.87" y="131.23" width="4.34" height="5.32" fill="#ff5600"/>
<rect x="284.21" y="131.23" width="4.34" height="5.32" fill="#ff5600"/>
<rect x="288.56" y="131.23" width="4.34" height="5.32" fill="#ff5600"/>
<rect x="292.90" y="131.23" width="4.34" height="5.32" fill="#ff5600"/>
<rect x="297.24" y="131.23" width="4.34" height="5.32" fill="#ff5600"/>
<rect x="301.59" y="131.23" width="4.34" height="5.32" fill="#ff7000"/>
<rect x="305.93" y="131.23" width="4.34" height="5.32" fill="#ff7000"/>
<rect x="358.04" y="131.23" width="4.34" height="5.32" fill="#1ede18"/>
<rect x="371.07" y="131.23" width="4.34" height="5.32" fill="#1ede18"/>
<rect x="375.42" y="131.23" width="4.34" height="5.32" fill="#1ede18"/>
<rect x="379.76" y="131.23" width="4.34" height="5.32" fill="#1ede18"/>
<rect x="384.10" y="131.23" width="4.34" height="5.32" fill="#1ede18"/>
<rect x="388.45" y="131.23" width="4.34" height="5.32" fill="#1ede18"/>
<rect x="392.79" y="131.23" width="4.34" height="5.32" fill="#1ede18"/>
<rect x="397.13" y="131.23" width="4.34" height="5.32" fill="#1ede18"/>
<rect x="401.47" y="131.23" width="4.34" height="5.32" fill="#1ede18"/>
<rect x="405.82" y="131.23" width="4.34" height="5.32" fill="#1ede18"/>
<rect x="410.16" y="131.23" width="4.34" height="5.32" fill="#1ede18"/>
<rect x="414.50" y="131.23" width="4.34" height="5.32" fill="#1ede18"/>
<rect x="418.85" y="131.23" width="4.34" height="5.32" fill="#1ede18"/>
<rect x="423.19" y="131.23" width="4.34" height="5.32" fill="#1ede18"/>
<rect x="271.19" y="136.55" width="4.34" height="5.32" fill="#ff5600"/>
<rect x="275.53" y="136.55" width="4.34" height="5.32" fill="#ff5600"/>
<rect x="279.87" y="136.55" width="4.34" height="5.32" fill="#ff5600"/>
<rect x="284.21" y="136.55" width="4.34" height="5.32" fill="#ff5600"/>
<rect x="358.04" y="136.55" width="4.34" height="5.32" fill="#3ee428"/>
<rect x="371.07" y="136.55" width="4.34" height="5.32" fill="#3ee428"/>
<rect x="375.42" y="136.55" width="4.34" height="5.32" fill="#3ee428"/>
<rect x="379.76" y="136.55" width="4.34" height="5.32" fill="#3ee428"/>
<rect x="384.10" y="136.55" width="4.34" height="5.32" fill="#3ee428"/>
<rect x="388.45" y="136.55" width="4.34" height="5.32" fill="#3ee428"/>
<rect x="392.79" y="136.55" width="4.34" height="5.32" fill="#3ee428"/>
<rect x="397.13" y="136.55" width="4.34" height="5.32" fill="#3ee428"/>
<rect x="401.47" y="136.55" width="4.34" height="5.32" fill="#3ee428"/>
<rect x="405.82" y="136.55" width="4.34" height="5.32" fill="#3ee428"/>
<rect x="410.16" y="136.55" width="4.34" height="5.32" fill="#3ee428"/>
<rect x="414.50" y="136.55" width="4.34" height="5.32" fill="#3ee428"/>
<rect x="418.85" y="136.55" width="4.34" height="5.32" fill="#3ee428"/>
<rect x="423.19" y="136.55" width="4.34" height="5.32" fill="#3ee428"/>
<rect x="375.42" y="141.88" width="4.34" height="5.32" fill="#3ee428"/>
<rect x="379.76" y="141.88" width="4.34" height="5.32" fill="#3ee428"/>
<rect x="384.10" y="141.88" width="4.34" height="5.32" fill="#3ee428"/>
<rect x="388.45" y="141.88" width="4.34" height="5.32" fill="#3ee428"/>
<rect x="392.79" y="141.88" width="4.34" height="5.32" fill="#3ee428"/>
<rect x="397.13" y="141.88" width="4.34" height="5.32" fill="#3ee428"/>
<rect x="401.47" y="141.88" width="4.34" height="5.32" fill="#3ee428"/>
<rect x="405.82" y="141.88" width="4.34" height="5.32" fill="#3ee428"/>
<rect x="410.16" y="141.88" width="4.34" height="5.32" fill="#3ee428"/>
<rect x="414.50" y="141.88" width="4.34" height="5.32" fill="#3ee428"/>
<rect x="418.85" y="141.88" width="4.34" height="5.32" fill="#3ee428"/>
<rect x="379.76" y="147.20" width="4.34" height="5.32" fill="#86ee48"/>
<rect x="384.10" y="147.20" width="4.34" height="5.32" fill="#86ee48"/>
<rect x="388.45" y="147.20" width="4.34" height="5.32" fill="#86ee48"/>
<rect x="392.79" y="147.20" width="4.34" height="5.32" fill="#86ee48"/>
<rect x="397.13" y="147.20" width="4.34" height="5.32" fill="#86ee48"/>
<rect x="401.47" y="147.20" width="4.34" height="5.32" fill="#86ee48"/>
<rect x="405.82" y="147.20" width="4.34" height="5.32" fill="#86ee48"/>
<rect x="410.16" y="147.20" width="4.34" height="5.32" fill="#86ee48"/>
<rect x="414.50" y="147.20" width="4.34" height="5.32" fill="#86ee48"/>
<rect x="418.85" y="147.20" width="4.34" height="5.32" fill="#86ee48"/>
<rect x="379.76" y="152.52" width="4.34" height="5.32" fill="#86ee48"/>
<rect x="384.10" y="152.52" width="4.34" height="5.32" fill="#86ee48"/>
<rect x="388.45" y="152.52" width="4.34" height="5.32" fill="#86ee48"/>
<rect x="392.79" y="152.52" width="4.34" height="5.32" fill="#86ee48"/>
<rect x="397.13" y="152.52" width="4.34" height="5.32" fill="#86ee48"/>
<rect x="401.47" y="152.52" width="4.34" height="5.32" fill="#86ee48"/>
<rect x="405.82" y="152.52" width="4.34" height="5.32" fill="#86ee48"/>
<rect x="410.16" y="152.52" width="4.34" height="5.32" fill="#86ee48"/>
<rect x="414.50" y="152.52" width="4.34" height="5.32" fill="#86ee48"/>
<rect x="392.79" y="157.84" width="4.34" height="5.32" fill="#c0f46c"/>
<rect x="401.47" y="157.84" width="4.34" height="5.32" fill="#c0f46c"/>
<rect x="405.82" y="157.84" width="4.34" height="5.32" fill="#c0f46c"/>
<rect x="401.47" y="173.81" width="4.34" height="5.32" fill="#86ee48"/>
<rect x="405.82" y="173.81" width="4.34" height="5.32" fill="#86ee48"/>
<rect x="410.16" y="173.81" width="4.34" height="5.32" fill="#86ee48"/>
<rect x="401.47" y="179.14" width="4.34" height="5.32" fill="#c0f46c"/>
<rect x="405.82" y="179.14" width="4.34" height="5.32" fill="#c0f46c"/>
<rect x="410.16" y="179.14" width="4.34" height="5.32" fill="#c0f46c"/>
<rect x="405.82" y="184.46" width="4.34" height="5.32" fill="#c0f46c"/>
</g>
<path d="M390.6 9.3 L395.0 22.1 L396.3 30.1 L402.8 34.9 L403.6 42.3 L406.3 50.3 L407.1 56.7 L418.0 63.6 L421.5 74.8 L426.7 75.9 L428.4 82.3 L434.0 89.7 L436.7 93.4 L437.1 102.0 L438.8 107.8 L436.2 120.6 L434.0 127.0 L428.8 136.0 L426.7 139.7 L423.6 149.3 L422.8 155.2 L415.8 156.8 L410.2 158.9 L407.1 163.7 L403.6 160.0 L400.2 158.9 L395.0 162.1 L388.4 160.0 L383.7 157.8 L378.9 154.1 L378.0 148.3 L375.0 145.1 L371.5 145.1 L373.2 141.9 L371.5 138.1 L370.2 142.4 L366.3 143.5 L368.9 141.3 L370.6 132.8 L369.8 129.6 L367.6 134.4 L362.4 140.8 L358.9 139.7 L359.3 134.4 L354.6 130.2 L352.4 126.4 L346.3 125.9 L341.5 123.2 L332.0 124.3 L324.2 127.0 L314.6 128.6 L310.3 131.2 L308.1 136.0 L301.2 136.0 L292.9 136.6 L286.4 141.3 L279.9 142.4 L273.4 138.1 L271.2 134.4 L274.2 132.8 L274.2 125.9 L271.2 117.9 L270.8 109.9 L267.3 103.0 L264.7 96.6 L264.2 90.8 L265.5 86.5 L264.2 82.8 L266.0 75.3 L267.7 71.6 L272.9 68.4 L278.6 65.2 L286.4 63.6 L293.3 61.5 L299.4 56.7 L302.5 50.3 L305.1 43.9 L309.0 42.3 L312.0 38.1 L315.5 33.3 L319.0 30.1 L323.3 29.0 L328.1 35.9 L332.0 34.9 L335.0 34.9 L337.6 25.3 L340.2 21.6 L342.8 21.0 L347.6 20.5 L347.2 16.8 L351.5 18.4 L355.9 19.4 L361.1 20.5 L365.4 19.4 L366.7 21.6 L364.6 26.4 L362.0 30.1 L360.2 34.9 L365.0 39.7 L369.8 42.3 L374.5 45.5 L377.6 48.2 L382.4 49.3 L385.8 43.4 L386.7 35.4 L386.3 27.4 L387.1 22.1 L388.4 15.7 L390.6 9.3 Z" fill="none" stroke="#6a6a6a" stroke-width="0.55" stroke-opacity="0.85" stroke-linejoin="round"/>
<path d="M400.6 171.2 L408.0 173.3 L415.4 172.2 L415.8 178.6 L414.1 184.5 L409.7 188.2 L405.8 187.7 L402.8 180.7 L400.6 174.9 L400.6 171.2 Z" fill="none" stroke="#6a6a6a" stroke-width="0.55" stroke-opacity="0.85" stroke-linejoin="round"/>
<line x1="255.5" y1="8.8" x2="258.3" y2="8.8" stroke="#aaaaaa" stroke-width="0.8"/>
<text x="255.2" y="12.4" font-size="10.2" text-anchor="end" textLength="19.5" lengthAdjust="spacingAndGlyphs" fill="#1a1a1a" stroke="#1a1a1a" stroke-width="0.3">10°S</text>
<line x1="255.5" y1="62.0" x2="258.3" y2="62.0" stroke="#aaaaaa" stroke-width="0.8"/>
<text x="255.2" y="65.6" font-size="10.2" text-anchor="end" textLength="19.5" lengthAdjust="spacingAndGlyphs" fill="#1a1a1a" stroke="#1a1a1a" stroke-width="0.3">20°S</text>
<line x1="255.5" y1="115.3" x2="258.3" y2="115.3" stroke="#aaaaaa" stroke-width="0.8"/>
<text x="255.2" y="118.9" font-size="10.2" text-anchor="end" textLength="19.5" lengthAdjust="spacingAndGlyphs" fill="#1a1a1a" stroke="#1a1a1a" stroke-width="0.3">30°S</text>
<line x1="255.5" y1="168.5" x2="258.3" y2="168.5" stroke="#aaaaaa" stroke-width="0.8"/>
<text x="255.2" y="172.1" font-size="10.2" text-anchor="end" textLength="19.5" lengthAdjust="spacingAndGlyphs" fill="#1a1a1a" stroke="#1a1a1a" stroke-width="0.3">40°S</text>
<line x1="292.9" y1="194.5" x2="292.9" y2="197" stroke="#aaaaaa" stroke-width="0.8"/>
<text x="292.9" y="205.6" font-size="10" text-anchor="middle" textLength="24" lengthAdjust="spacingAndGlyphs" fill="#1a1a1a" stroke="#1a1a1a" stroke-width="0.3">120°E</text>
<line x1="336.3" y1="194.5" x2="336.3" y2="197" stroke="#aaaaaa" stroke-width="0.8"/>
<text x="336.3" y="205.6" font-size="10" text-anchor="middle" textLength="24" lengthAdjust="spacingAndGlyphs" fill="#1a1a1a" stroke="#1a1a1a" stroke-width="0.3">130°E</text>
<line x1="379.8" y1="194.5" x2="379.8" y2="197" stroke="#aaaaaa" stroke-width="0.8"/>
<text x="379.8" y="205.6" font-size="10" text-anchor="middle" textLength="24" lengthAdjust="spacingAndGlyphs" fill="#1a1a1a" stroke="#1a1a1a" stroke-width="0.3">140°E</text>
<line x1="423.2" y1="194.5" x2="423.2" y2="197" stroke="#aaaaaa" stroke-width="0.8"/>
<text x="423.2" y="205.6" font-size="10" text-anchor="middle" textLength="24" lengthAdjust="spacingAndGlyphs" fill="#1a1a1a" stroke="#1a1a1a" stroke-width="0.3">150°E</text>
<text x="298.4" y="215.2" font-size="10.4" textLength="138.3" lengthAdjust="spacingAndGlyphs" fill="#1a1a1a" stroke="#1a1a1a" stroke-width="0.3">(Water Gain/Water Loss) * 100%</text>
<text x="262.5" y="15.8" font-family="Liberation Serif, serif" font-weight="bold" font-size="13.5" fill="#111">B</text>
<text x="391.0" y="65.8" font-family="Liberation Serif, serif" font-weight="bold" font-size="13.8" fill="#111">I</text>
<text x="369.2" y="115.9" font-family="Liberation Serif, serif" font-weight="bold" font-size="13.8" fill="#111">II</text>
<text x="274.9" y="98.0" font-family="Liberation Serif, serif" font-weight="bold" font-size="13.8" fill="#111">III</text>
<defs><linearGradient id="gb" x1="0" x2="1"><stop offset="0" stop-color="#0000b4"/><stop offset="0.45" stop-color="#0058dc"/><stop offset="1" stop-color="#00c8dc"/></linearGradient><linearGradient id="gr" x1="0" x2="1"><stop offset="0" stop-color="#a00000"/><stop offset="0.3" stop-color="#ff0000"/><stop offset="0.65" stop-color="#ff9000"/><stop offset="1" stop-color="#ffff30"/></linearGradient><linearGradient id="gg" x1="0" x2="1"><stop offset="0" stop-color="#c8ff90"/><stop offset="0.35" stop-color="#40f030"/><stop offset="1" stop-color="#008a00"/></linearGradient></defs>
<rect x="256.8" y="219.2" width="52.5" height="4.4" fill="url(#gb)"/>
<rect x="328.2" y="219.2" width="53.6" height="4.4" fill="url(#gr)"/>
<rect x="394.6" y="219.2" width="51" height="4.4" fill="url(#gg)"/>
<path d="M313.2 219.0 L309.2 221.4 L313.2 223.8 L312.0 221.4 Z" fill="#fff" stroke="#8a8a8a" stroke-width="0.55" stroke-linejoin="round"/>
<path d="M311.6 219.9 L309.9 221.4 L311.6 222.9" fill="none" stroke="#9a9a9a" stroke-width="0.45"/>
<path d="M328.2 219.0 L324.2 221.4 L328.2 223.8 L327.0 221.4 Z" fill="#fff" stroke="#8a8a8a" stroke-width="0.55" stroke-linejoin="round"/>
<path d="M326.6 219.9 L324.9 221.4 L326.6 222.9" fill="none" stroke="#9a9a9a" stroke-width="0.45"/>
<path d="M385.8 219.0 L381.8 221.4 L385.8 223.8 L384.6 221.4 Z" fill="#fff" stroke="#8a8a8a" stroke-width="0.55" stroke-linejoin="round"/>
<path d="M384.2 219.9 L382.5 221.4 L384.2 222.9" fill="none" stroke="#9a9a9a" stroke-width="0.45"/>
<path d="M394.6 219.0 L390.6 221.4 L394.6 223.8 L393.4 221.4 Z" fill="#fff" stroke="#8a8a8a" stroke-width="0.55" stroke-linejoin="round"/>
<path d="M393.0 219.9 L391.3 221.4 L393.0 222.9" fill="none" stroke="#9a9a9a" stroke-width="0.45"/>
<text x="266.8" y="233.4" font-size="10.3" textLength="52" lengthAdjust="spacingAndGlyphs" fill="#1a1a1a" stroke="#1a1a1a" stroke-width="0.3">-400-300-200</text>
<text x="320.9" y="233.6" font-size="10.3" textLength="9.4" lengthAdjust="spacingAndGlyphs" fill="#1a1a1a" stroke="#1a1a1a" stroke-width="0.3">20</text>
<text x="335.4" y="233.6" font-size="10.3" textLength="9.4" lengthAdjust="spacingAndGlyphs" fill="#1a1a1a" stroke="#1a1a1a" stroke-width="0.3">40</text>
<text x="349.9" y="233.6" font-size="10.3" textLength="9.5" lengthAdjust="spacingAndGlyphs" fill="#1a1a1a" stroke="#1a1a1a" stroke-width="0.3">60</text>
<text x="364.4" y="233.6" font-size="10.3" textLength="9.5" lengthAdjust="spacingAndGlyphs" fill="#1a1a1a" stroke="#1a1a1a" stroke-width="0.3">80</text>
<text x="386.6" y="233.6" font-size="10.3" textLength="13.1" lengthAdjust="spacingAndGlyphs" fill="#1a1a1a" stroke="#1a1a1a" stroke-width="0.3">100</text>
<text x="404" y="233.6" font-size="10.3" textLength="13.1" lengthAdjust="spacingAndGlyphs" fill="#1a1a1a" stroke="#1a1a1a" stroke-width="0.3">200</text>
<text x="421.5" y="233.6" font-size="10.3" textLength="12.3" lengthAdjust="spacingAndGlyphs" fill="#1a1a1a" stroke="#1a1a1a" stroke-width="0.3">300</text>
</svg></body></html>
